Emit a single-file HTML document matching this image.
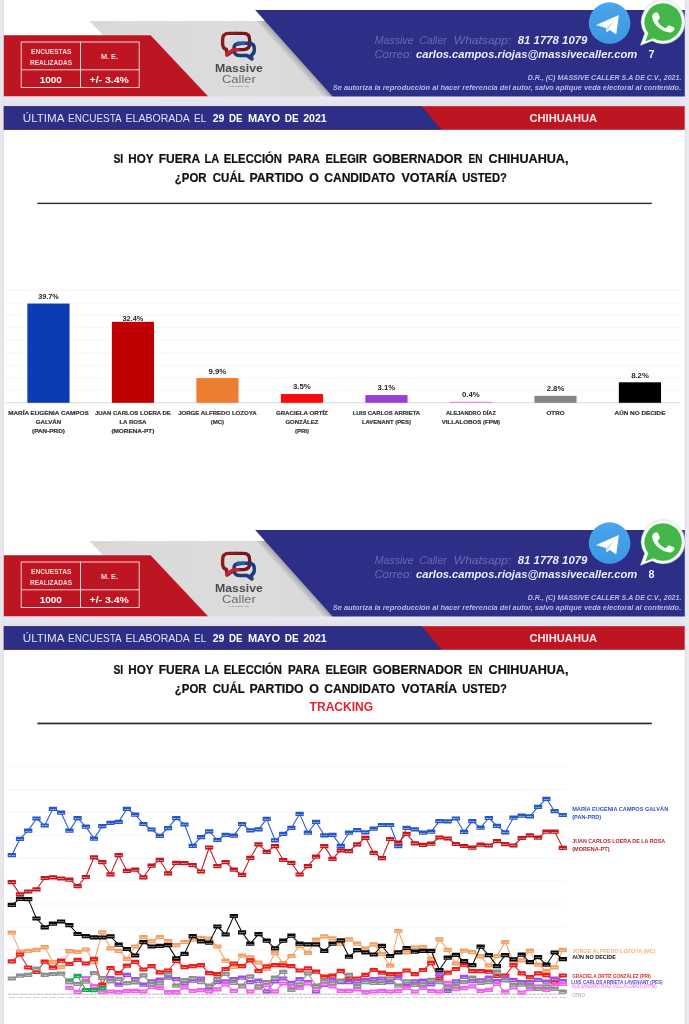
<!DOCTYPE html>
<html lang="es"><head><meta charset="utf-8"><title>Massive Caller - Chihuahua</title>
<style>html,body{margin:0;padding:0;background:#fff}body{width:689px;height:1024px;overflow:hidden}svg{display:block;filter:blur(0.45px)}</style>
</head><body>
<svg width="689" height="1024" viewBox="0 0 689 1024" font-family='"Liberation Sans", sans-serif'>
<defs>
<linearGradient id="gGrey" x1="0" y1="0" x2="1" y2="0"><stop offset="0" stop-color="#d9d9d9"/><stop offset="0.6" stop-color="#dcdcdc"/><stop offset="1" stop-color="#d9d9d9"/></linearGradient>
<linearGradient id="gShadow" gradientUnits="userSpaceOnUse" x1="293.4" y1="65.8" x2="299.9" y2="60"><stop offset="0" stop-color="#b4b4ba" stop-opacity="0"/><stop offset="1" stop-color="#8f8f9c" stop-opacity="0.8"/></linearGradient>
<linearGradient id="gStrip" x1="0" y1="0" x2="0" y2="1"><stop offset="0" stop-color="#e9e9f4"/><stop offset="1" stop-color="#e0e3e8"/></linearGradient>
<linearGradient id="gTg" x1="0" y1="0" x2="0" y2="1"><stop offset="0" stop-color="#48a6ec"/><stop offset="1" stop-color="#3c97e2"/></linearGradient>
</defs>
<rect width="689" height="1024" fill="#ffffff"/>
<rect x="0" y="0" width="3.9" height="1024" fill="#e8e7ed"/>
<rect x="3.0" y="0" width="0.9" height="1024" fill="#dfdee6"/>
<rect x="684.9" y="0" width="4.1" height="1024" fill="#e9e8ef"/>
<rect x="684.7" y="0" width="0.9" height="1024" fill="#e0dfe8"/>
<g transform="translate(0,0)">
<rect x="3.8" y="96" width="680.9" height="10.5" fill="url(#gStrip)"/>
<polygon points="89.6,20.9 275,20.9 345,96.5 160,96.5" fill="url(#gGrey)"/>
<polygon points="256.5,20.9 265.5,20.9 332.5,96.5 323.5,96.5" fill="url(#gShadow)"/>
<polygon points="3.8,35.3 150.6,35.3 208,96.3 3.8,96.3" fill="#be1522"/>
<polygon points="255.2,10 684.8,10 684.8,96.6 332.5,96.6" fill="#2d2e85"/>
<g fill="none" stroke="#fbe9ea" stroke-width="0.9"><rect x="21.2" y="42" width="118" height="45.5"/><line x1="80.5" y1="42" x2="80.5" y2="87.5"/><line x1="21.2" y1="69.8" x2="139.2" y2="69.8"/></g>
<text x="51.2" y="54.4" font-size="6.6" fill="#f6d9dc" font-weight="bold" text-anchor="middle" textLength="40.4" lengthAdjust="spacingAndGlyphs">ENCUESTAS</text>
<text x="51.0" y="64.5" font-size="6.6" fill="#f6d9dc" font-weight="bold" text-anchor="middle" textLength="42.0" lengthAdjust="spacingAndGlyphs">REALIZADAS</text>
<text x="109.5" y="59.3" font-size="6.8" fill="#f6d9dc" font-weight="bold" text-anchor="middle" textLength="17.1" lengthAdjust="spacingAndGlyphs">M. E.</text>
<text x="50.8" y="83.3" font-size="9.8" fill="#ffffff" font-weight="bold" text-anchor="middle" textLength="22.1" lengthAdjust="spacingAndGlyphs">1000</text>
<text x="109.2" y="83.3" font-size="9.8" fill="#ffffff" font-weight="bold" text-anchor="middle" textLength="39.2" lengthAdjust="spacingAndGlyphs">+/- 3.4%</text>
<g fill="none" stroke-width="3.4" stroke-linejoin="round" stroke-linecap="round"><path d="M235.5,33.4 H243.5 Q249.6,33.4 249.6,39.5 V43.5 Q249.6,49.6 243.5,49.6 H236" stroke="#7a1418"/><path d="M237,49.6 H235 L227,55 L226.5,49.5 Q222.6,48.5 222.6,43.5 V39.5 Q222.6,33.4 228.7,33.4 H236" stroke="#8c1a1d"/><path d="M238,44 Q234,44 234,48 V50 Q234,55.5 239.5,55.5 H247 L252,59 L251.2,55 Q254.3,54 254.3,50 V48.5 Q254.3,43.3 249,43.3 H238" stroke="#1d3a7a"/><path d="M226.8,54.2 L233,49.8 H238" stroke="#cf1f2b"/><path d="M238,44 Q241,43.3 244,43.3" stroke="#2458a6"/></g>
<text x="238.9" y="72.3" font-size="11" fill="#4b4b4d" font-weight="bold" text-anchor="middle" textLength="48.0" lengthAdjust="spacingAndGlyphs">Massive</text>
<text x="238.9" y="82.7" font-size="11.6" fill="#6d6d70" text-anchor="middle" textLength="34.0" lengthAdjust="spacingAndGlyphs">Caller</text>
<text x="239.0" y="86.6" font-size="2.4" fill="#777" text-anchor="middle" textLength="20.0" lengthAdjust="spacingAndGlyphs">THE LINES ARE</text>
<text y="43.8" font-size="10.4" fill="#8c8ed0" font-weight="normal" font-style="italic" opacity="0.62"><tspan x="374.8" textLength="38.7" lengthAdjust="spacingAndGlyphs">Massive</tspan> <tspan x="419.6" textLength="27.0" lengthAdjust="spacingAndGlyphs">Caller</tspan> <tspan x="453.8" textLength="57.5" lengthAdjust="spacingAndGlyphs">Whatsapp:</tspan></text>
<text x="517.8" y="44.0" font-size="10.9" fill="#ededfb" font-weight="bold" font-style="italic" textLength="69.6" lengthAdjust="spacingAndGlyphs">81 1778 1079</text>
<text x="374.4" y="58.4" font-size="10.4" fill="#8c8ed0" font-style="italic" textLength="38.0" lengthAdjust="spacingAndGlyphs" opacity="0.62">Correo:</text>
<text x="416.0" y="58.4" font-size="10.9" fill="#ededfb" font-weight="bold" font-style="italic" textLength="221.3" lengthAdjust="spacingAndGlyphs">carlos.campos.riojas@massivecaller.com</text>
<text x="648.4" y="58.0" font-size="11.3" fill="#ededfb" font-weight="bold" textLength="6.0" lengthAdjust="spacingAndGlyphs">7</text>
<text x="681.4" y="79.5" font-size="7.2" fill="#b9baea" font-weight="bold" text-anchor="end" font-style="italic" textLength="153.7" lengthAdjust="spacingAndGlyphs">D.R., (C) MASSIVE CALLER S.A DE C.V., 2021.</text>
<text x="681.2" y="90.1" font-size="7.2" fill="#b9baea" font-weight="bold" text-anchor="end" font-style="italic" textLength="348.4" lengthAdjust="spacingAndGlyphs">Se autoriza la reproducción al hacer referencia del autor, salvo aplique veda electoral al contenido.</text>
<circle cx="609.6" cy="23.1" r="20.8" fill="url(#gTg)"/><path d="M596.1,24.9 L618.9,15.1 L616.2,34.4 L609.8,30.0 L606.6,32.6 L606.0,28.0 L602.8,26.9 Z" fill="#fff"/><path d="M606.0,28.0 L614.2,20.4 L606.6,32.6 Z" fill="#cfe2f4"/>
<path d="M663,-0.9 a22.6,22.6 0 1 1 -11.2,42.2 L639.6,45.9 L644.2,33.6 A22.6,22.6 0 0 1 663,-0.9 Z" fill="#d9d6dc" opacity="0.55" transform="translate(0,0)"/><path d="M663,0.2 a21.7,21.7 0 1 1 -10.6,40.6 L640.6,45.2 L644.9,33.6 A21.7,21.7 0 0 1 663,0.2 Z" fill="#f2fff2"/><path d="M663,3.2 a18.8,18.8 0 1 1 -9.6,35 L645.3,41.4 L648.3,33.2 A18.8,18.8 0 0 1 663,3.2 Z" fill="#44b549"/><path d="M655.3,12.4 c-1.5,0.3 -3.2,2 -3.1,4.3 c0.3,4.6 3.4,8.6 7.2,11.6 c3.6,2.8 7.6,4.4 10.9,4.1 c2.1,-0.2 3.8,-1.7 4.1,-3.3 c0.2,-1 -0.2,-1.5 -0.9,-1.9 l-3.6,-1.8 c-0.8,-0.4 -1.5,-0.3 -2,0.4 l-1.3,1.7 c-0.5,0.6 -1.1,0.7 -1.8,0.4 c-2.9,-1.3 -5.2,-3.4 -6.7,-6.2 c-0.3,-0.6 -0.2,-1.2 0.3,-1.7 l1.1,-1.3 c0.5,-0.6 0.5,-1.2 0.2,-1.9 l-1.6,-3.6 c-0.5,-1 -1.300,-1.1 -2.800,-0.800 Z" fill="#f2fff2"/>
<rect x="3.8" y="106.2" width="680.9" height="23.6" fill="#be1522"/>
<polygon points="3.8,106.2 421.8,106.2 441.6,129.8 3.8,129.8" fill="#2d2e85"/>
<text y="122.1" font-size="11.6" fill="#dfe0f6" font-weight="normal" ><tspan x="22.8" textLength="41.0" lengthAdjust="spacingAndGlyphs">ÚLTIMA</tspan> <tspan x="68.1" textLength="53.1" lengthAdjust="spacingAndGlyphs">ENCUESTA</tspan> <tspan x="125.6" textLength="63.7" lengthAdjust="spacingAndGlyphs">ELABORADA</tspan> <tspan x="194.0" textLength="12.2" lengthAdjust="spacingAndGlyphs">EL</tspan></text>
<text y="122.1" font-size="11.6" fill="#ffffff" font-weight="bold" ><tspan x="212.7" textLength="11.6" lengthAdjust="spacingAndGlyphs">29</tspan> <tspan x="229.1" textLength="13.5" lengthAdjust="spacingAndGlyphs">DE</tspan> <tspan x="247.9" textLength="32.2" lengthAdjust="spacingAndGlyphs">MAYO</tspan> <tspan x="284.8" textLength="13.9" lengthAdjust="spacingAndGlyphs">DE</tspan> <tspan x="303.2" textLength="23.4" lengthAdjust="spacingAndGlyphs">2021</tspan></text>
<text x="563.3" y="121.9" font-size="11.4" fill="#fdeaea" font-weight="bold" text-anchor="middle" textLength="67.6" lengthAdjust="spacingAndGlyphs">CHIHUAHUA</text>
</g>

<text y="163.4" font-size="12.2" fill="#111" font-weight="bold" stroke="#111" stroke-width="0.22"><tspan x="113.4" textLength="9.8" lengthAdjust="spacingAndGlyphs">SI</tspan> <tspan x="128.3" textLength="25.0" lengthAdjust="spacingAndGlyphs">HOY</tspan> <tspan x="158.8" textLength="40.8" lengthAdjust="spacingAndGlyphs">FUERA</tspan> <tspan x="204.5" textLength="14.3" lengthAdjust="spacingAndGlyphs">LA</tspan> <tspan x="223.7" textLength="58.3" lengthAdjust="spacingAndGlyphs">ELECCIÓN</tspan> <tspan x="288.1" textLength="31.4" lengthAdjust="spacingAndGlyphs">PARA</tspan> <tspan x="325.6" textLength="41.4" lengthAdjust="spacingAndGlyphs">ELEGIR</tspan> <tspan x="372.8" textLength="89.6" lengthAdjust="spacingAndGlyphs">GOBERNADOR</tspan> <tspan x="468.5" textLength="14.0" lengthAdjust="spacingAndGlyphs">EN</tspan> <tspan x="488.6" textLength="79.9" lengthAdjust="spacingAndGlyphs">CHIHUAHUA,</tspan></text>
<text y="181.9" font-size="12.2" fill="#111" font-weight="bold" stroke="#111" stroke-width="0.22"><tspan x="174.8" textLength="31.7" lengthAdjust="spacingAndGlyphs">¿POR</tspan> <tspan x="212.8" textLength="31.7" lengthAdjust="spacingAndGlyphs">CUÁL</tspan> <tspan x="249.5" textLength="54.1" lengthAdjust="spacingAndGlyphs">PARTIDO</tspan> <tspan x="309.2" textLength="9.7" lengthAdjust="spacingAndGlyphs">O</tspan> <tspan x="324.3" textLength="70.9" lengthAdjust="spacingAndGlyphs">CANDIDATO</tspan> <tspan x="401.4" textLength="55.2" lengthAdjust="spacingAndGlyphs">VOTARÍA</tspan> <tspan x="462.3" textLength="44.6" lengthAdjust="spacingAndGlyphs">USTED?</tspan></text>

<rect x="37.3" y="202.7" width="614.5" height="1.4" fill="#2a2a2a"/>
<line x1="5.7" y1="390.3" x2="680" y2="390.3" stroke="#f4f4f4" stroke-width="0.8"/>
<line x1="5.7" y1="377.8" x2="680" y2="377.8" stroke="#f4f4f4" stroke-width="0.8"/>
<line x1="5.7" y1="365.3" x2="680" y2="365.3" stroke="#f4f4f4" stroke-width="0.8"/>
<line x1="5.7" y1="352.8" x2="680" y2="352.8" stroke="#f4f4f4" stroke-width="0.8"/>
<line x1="5.7" y1="340.3" x2="680" y2="340.3" stroke="#f4f4f4" stroke-width="0.8"/>
<line x1="5.7" y1="327.8" x2="680" y2="327.8" stroke="#f4f4f4" stroke-width="0.8"/>
<line x1="5.7" y1="315.3" x2="680" y2="315.3" stroke="#f4f4f4" stroke-width="0.8"/>
<line x1="5.7" y1="302.8" x2="680" y2="302.8" stroke="#f4f4f4" stroke-width="0.8"/>
<line x1="5.7" y1="290.3" x2="680" y2="290.3" stroke="#f4f4f4" stroke-width="0.8"/>
<line x1="5.7" y1="402.8" x2="680" y2="402.8" stroke="#d6d6d6" stroke-width="0.9"/>
<rect x="27.35" y="303.55" width="42.2" height="99.25" fill="#0c3bb4"/>
<text x="48.5" y="299.4" font-size="8" fill="#262626" font-weight="bold" text-anchor="middle" textLength="20.7" lengthAdjust="spacingAndGlyphs">39.7%</text>
<text x="48.5" y="414.9" font-size="6.2" fill="#383838" font-weight="bold" text-anchor="middle" textLength="80.5" lengthAdjust="spacingAndGlyphs" stroke="#383838" stroke-width="0.22">MARÍA EUGENIA CAMPOS</text>
<text x="48.5" y="424.4" font-size="6.2" fill="#383838" font-weight="bold" text-anchor="middle" textLength="25.5" lengthAdjust="spacingAndGlyphs" stroke="#383838" stroke-width="0.22">GALVÁN</text>
<text x="48.5" y="433.3" font-size="6.2" fill="#383838" font-weight="bold" text-anchor="middle" textLength="33.0" lengthAdjust="spacingAndGlyphs" stroke="#383838" stroke-width="0.22">(PAN-PRD)</text>
<rect x="111.85" y="321.80" width="42.2" height="81.00" fill="#c00000"/>
<text x="132.9" y="320.8" font-size="8" fill="#262626" font-weight="bold" text-anchor="middle" textLength="20.7" lengthAdjust="spacingAndGlyphs">32.4%</text>
<text x="132.9" y="414.9" font-size="6.2" fill="#383838" font-weight="bold" text-anchor="middle" textLength="76.0" lengthAdjust="spacingAndGlyphs" stroke="#383838" stroke-width="0.22">JUAN CARLOS LOERA DE</text>
<text x="132.9" y="424.4" font-size="6.2" fill="#383838" font-weight="bold" text-anchor="middle" textLength="27.0" lengthAdjust="spacingAndGlyphs" stroke="#383838" stroke-width="0.22">LA ROSA</text>
<text x="132.9" y="433.3" font-size="6.2" fill="#383838" font-weight="bold" text-anchor="middle" textLength="43.0" lengthAdjust="spacingAndGlyphs" stroke="#383838" stroke-width="0.22">(MORENA-PT)</text>
<rect x="196.35" y="378.05" width="42.2" height="24.75" fill="#ed7d31"/>
<text x="217.4" y="373.6" font-size="8" fill="#262626" font-weight="bold" text-anchor="middle" textLength="17.7" lengthAdjust="spacingAndGlyphs">9.9%</text>
<text x="217.4" y="414.9" font-size="6.2" fill="#383838" font-weight="bold" text-anchor="middle" textLength="78.5" lengthAdjust="spacingAndGlyphs" stroke="#383838" stroke-width="0.22">JORGE ALFREDO LOZOYA</text>
<text x="217.4" y="424.4" font-size="6.2" fill="#383838" font-weight="bold" text-anchor="middle" textLength="13.5" lengthAdjust="spacingAndGlyphs" stroke="#383838" stroke-width="0.22">(MC)</text>
<rect x="280.85" y="394.05" width="42.2" height="8.75" fill="#fa0a0a"/>
<text x="301.9" y="388.9" font-size="8" fill="#262626" font-weight="bold" text-anchor="middle" textLength="17.7" lengthAdjust="spacingAndGlyphs">3.5%</text>
<text x="301.9" y="414.9" font-size="6.2" fill="#383838" font-weight="bold" text-anchor="middle" textLength="52.0" lengthAdjust="spacingAndGlyphs" stroke="#383838" stroke-width="0.22">GRACIELA ORTÍZ</text>
<text x="301.9" y="424.4" font-size="6.2" fill="#383838" font-weight="bold" text-anchor="middle" textLength="33.0" lengthAdjust="spacingAndGlyphs" stroke="#383838" stroke-width="0.22">GONZÁLEZ</text>
<text x="301.9" y="433.3" font-size="6.2" fill="#383838" font-weight="bold" text-anchor="middle" textLength="14.0" lengthAdjust="spacingAndGlyphs" stroke="#383838" stroke-width="0.22">(PRI)</text>
<rect x="365.35" y="395.05" width="42.2" height="7.75" fill="#9a3fd5"/>
<text x="386.4" y="389.9" font-size="8" fill="#262626" font-weight="bold" text-anchor="middle" textLength="17.7" lengthAdjust="spacingAndGlyphs">3.1%</text>
<text x="386.4" y="414.9" font-size="6.2" fill="#383838" font-weight="bold" text-anchor="middle" textLength="67.5" lengthAdjust="spacingAndGlyphs" stroke="#383838" stroke-width="0.22">LUIS CARLOS ARRIETA</text>
<text x="386.4" y="424.4" font-size="6.2" fill="#383838" font-weight="bold" text-anchor="middle" textLength="49.0" lengthAdjust="spacingAndGlyphs" stroke="#383838" stroke-width="0.22">LAVENANT (PES)</text>
<rect x="449.85" y="401.80" width="42.2" height="1.00" fill="#ee72e6"/>
<text x="470.9" y="397.2" font-size="8" fill="#262626" font-weight="bold" text-anchor="middle" textLength="17.7" lengthAdjust="spacingAndGlyphs">0.4%</text>
<text x="470.9" y="414.9" font-size="6.2" fill="#383838" font-weight="bold" text-anchor="middle" textLength="50.0" lengthAdjust="spacingAndGlyphs" stroke="#383838" stroke-width="0.22">ALEJANDRO DÍAZ</text>
<text x="470.9" y="424.4" font-size="6.2" fill="#383838" font-weight="bold" text-anchor="middle" textLength="58.5" lengthAdjust="spacingAndGlyphs" stroke="#383838" stroke-width="0.22">VILLALOBOS (FPM)</text>
<rect x="534.35" y="395.80" width="42.2" height="7.00" fill="#878787"/>
<text x="555.5" y="390.7" font-size="8" fill="#262626" font-weight="bold" text-anchor="middle" textLength="17.7" lengthAdjust="spacingAndGlyphs">2.8%</text>
<text x="555.5" y="414.9" font-size="6.2" fill="#383838" font-weight="bold" text-anchor="middle" textLength="18.0" lengthAdjust="spacingAndGlyphs" stroke="#383838" stroke-width="0.22">OTRO</text>
<rect x="618.85" y="382.30" width="42.2" height="20.50" fill="#000000"/>
<text x="640.0" y="378.1" font-size="8" fill="#262626" font-weight="bold" text-anchor="middle" textLength="17.7" lengthAdjust="spacingAndGlyphs">8.2%</text>
<text x="640.0" y="414.9" font-size="6.2" fill="#383838" font-weight="bold" text-anchor="middle" textLength="50.8" lengthAdjust="spacingAndGlyphs" stroke="#383838" stroke-width="0.22">AÚN NO DECIDE</text>

<g transform="translate(0,520)">
<rect x="3.8" y="96" width="680.9" height="10.5" fill="url(#gStrip)"/>
<polygon points="89.6,20.9 275,20.9 345,96.5 160,96.5" fill="url(#gGrey)"/>
<polygon points="256.5,20.9 265.5,20.9 332.5,96.5 323.5,96.5" fill="url(#gShadow)"/>
<polygon points="3.8,35.3 150.6,35.3 208,96.3 3.8,96.3" fill="#be1522"/>
<polygon points="255.2,10 684.8,10 684.8,96.6 332.5,96.6" fill="#2d2e85"/>
<g fill="none" stroke="#fbe9ea" stroke-width="0.9"><rect x="21.2" y="42" width="118" height="45.5"/><line x1="80.5" y1="42" x2="80.5" y2="87.5"/><line x1="21.2" y1="69.8" x2="139.2" y2="69.8"/></g>
<text x="51.2" y="54.4" font-size="6.6" fill="#f6d9dc" font-weight="bold" text-anchor="middle" textLength="40.4" lengthAdjust="spacingAndGlyphs">ENCUESTAS</text>
<text x="51.0" y="64.5" font-size="6.6" fill="#f6d9dc" font-weight="bold" text-anchor="middle" textLength="42.0" lengthAdjust="spacingAndGlyphs">REALIZADAS</text>
<text x="109.5" y="59.3" font-size="6.8" fill="#f6d9dc" font-weight="bold" text-anchor="middle" textLength="17.1" lengthAdjust="spacingAndGlyphs">M. E.</text>
<text x="50.8" y="83.3" font-size="9.8" fill="#ffffff" font-weight="bold" text-anchor="middle" textLength="22.1" lengthAdjust="spacingAndGlyphs">1000</text>
<text x="109.2" y="83.3" font-size="9.8" fill="#ffffff" font-weight="bold" text-anchor="middle" textLength="39.2" lengthAdjust="spacingAndGlyphs">+/- 3.4%</text>
<g fill="none" stroke-width="3.4" stroke-linejoin="round" stroke-linecap="round"><path d="M235.5,33.4 H243.5 Q249.6,33.4 249.6,39.5 V43.5 Q249.6,49.6 243.5,49.6 H236" stroke="#7a1418"/><path d="M237,49.6 H235 L227,55 L226.5,49.5 Q222.6,48.5 222.6,43.5 V39.5 Q222.6,33.4 228.7,33.4 H236" stroke="#8c1a1d"/><path d="M238,44 Q234,44 234,48 V50 Q234,55.5 239.5,55.5 H247 L252,59 L251.2,55 Q254.3,54 254.3,50 V48.5 Q254.3,43.3 249,43.3 H238" stroke="#1d3a7a"/><path d="M226.8,54.2 L233,49.8 H238" stroke="#cf1f2b"/><path d="M238,44 Q241,43.3 244,43.3" stroke="#2458a6"/></g>
<text x="238.9" y="72.3" font-size="11" fill="#4b4b4d" font-weight="bold" text-anchor="middle" textLength="48.0" lengthAdjust="spacingAndGlyphs">Massive</text>
<text x="238.9" y="82.7" font-size="11.6" fill="#6d6d70" text-anchor="middle" textLength="34.0" lengthAdjust="spacingAndGlyphs">Caller</text>
<text x="239.0" y="86.6" font-size="2.4" fill="#777" text-anchor="middle" textLength="20.0" lengthAdjust="spacingAndGlyphs">THE LINES ARE</text>
<text y="43.8" font-size="10.4" fill="#8c8ed0" font-weight="normal" font-style="italic" opacity="0.62"><tspan x="374.8" textLength="38.7" lengthAdjust="spacingAndGlyphs">Massive</tspan> <tspan x="419.6" textLength="27.0" lengthAdjust="spacingAndGlyphs">Caller</tspan> <tspan x="453.8" textLength="57.5" lengthAdjust="spacingAndGlyphs">Whatsapp:</tspan></text>
<text x="517.8" y="44.0" font-size="10.9" fill="#ededfb" font-weight="bold" font-style="italic" textLength="69.6" lengthAdjust="spacingAndGlyphs">81 1778 1079</text>
<text x="374.4" y="58.4" font-size="10.4" fill="#8c8ed0" font-style="italic" textLength="38.0" lengthAdjust="spacingAndGlyphs" opacity="0.62">Correo:</text>
<text x="416.0" y="58.4" font-size="10.9" fill="#ededfb" font-weight="bold" font-style="italic" textLength="221.3" lengthAdjust="spacingAndGlyphs">carlos.campos.riojas@massivecaller.com</text>
<text x="648.4" y="58.0" font-size="11.3" fill="#ededfb" font-weight="bold" textLength="6.0" lengthAdjust="spacingAndGlyphs">8</text>
<text x="681.4" y="79.5" font-size="7.2" fill="#b9baea" font-weight="bold" text-anchor="end" font-style="italic" textLength="153.7" lengthAdjust="spacingAndGlyphs">D.R., (C) MASSIVE CALLER S.A DE C.V., 2021.</text>
<text x="681.2" y="90.1" font-size="7.2" fill="#b9baea" font-weight="bold" text-anchor="end" font-style="italic" textLength="348.4" lengthAdjust="spacingAndGlyphs">Se autoriza la reproducción al hacer referencia del autor, salvo aplique veda electoral al contenido.</text>
<circle cx="609.6" cy="23.1" r="20.8" fill="url(#gTg)"/><path d="M596.1,24.9 L618.9,15.1 L616.2,34.4 L609.8,30.0 L606.6,32.6 L606.0,28.0 L602.8,26.9 Z" fill="#fff"/><path d="M606.0,28.0 L614.2,20.4 L606.6,32.6 Z" fill="#cfe2f4"/>
<path d="M663,-0.9 a22.6,22.6 0 1 1 -11.2,42.2 L639.6,45.9 L644.2,33.6 A22.6,22.6 0 0 1 663,-0.9 Z" fill="#d9d6dc" opacity="0.55" transform="translate(0,0)"/><path d="M663,0.2 a21.7,21.7 0 1 1 -10.6,40.6 L640.6,45.2 L644.9,33.6 A21.7,21.7 0 0 1 663,0.2 Z" fill="#f2fff2"/><path d="M663,3.2 a18.8,18.8 0 1 1 -9.6,35 L645.3,41.4 L648.3,33.2 A18.8,18.8 0 0 1 663,3.2 Z" fill="#44b549"/><path d="M655.3,12.4 c-1.5,0.3 -3.2,2 -3.1,4.3 c0.3,4.6 3.4,8.6 7.2,11.6 c3.6,2.8 7.6,4.4 10.9,4.1 c2.1,-0.2 3.8,-1.7 4.1,-3.3 c0.2,-1 -0.2,-1.5 -0.9,-1.9 l-3.6,-1.8 c-0.8,-0.4 -1.5,-0.3 -2,0.4 l-1.3,1.7 c-0.5,0.6 -1.1,0.7 -1.8,0.4 c-2.9,-1.3 -5.2,-3.4 -6.7,-6.2 c-0.3,-0.6 -0.2,-1.2 0.3,-1.7 l1.1,-1.3 c0.5,-0.6 0.5,-1.2 0.2,-1.9 l-1.6,-3.6 c-0.5,-1 -1.300,-1.1 -2.800,-0.800 Z" fill="#f2fff2"/>
<rect x="3.8" y="106.2" width="680.9" height="23.6" fill="#be1522"/>
<polygon points="3.8,106.2 421.8,106.2 441.6,129.8 3.8,129.8" fill="#2d2e85"/>
<text y="122.1" font-size="11.6" fill="#dfe0f6" font-weight="normal" ><tspan x="22.8" textLength="41.0" lengthAdjust="spacingAndGlyphs">ÚLTIMA</tspan> <tspan x="68.1" textLength="53.1" lengthAdjust="spacingAndGlyphs">ENCUESTA</tspan> <tspan x="125.6" textLength="63.7" lengthAdjust="spacingAndGlyphs">ELABORADA</tspan> <tspan x="194.0" textLength="12.2" lengthAdjust="spacingAndGlyphs">EL</tspan></text>
<text y="122.1" font-size="11.6" fill="#ffffff" font-weight="bold" ><tspan x="212.7" textLength="11.6" lengthAdjust="spacingAndGlyphs">29</tspan> <tspan x="229.1" textLength="13.5" lengthAdjust="spacingAndGlyphs">DE</tspan> <tspan x="247.9" textLength="32.2" lengthAdjust="spacingAndGlyphs">MAYO</tspan> <tspan x="284.8" textLength="13.9" lengthAdjust="spacingAndGlyphs">DE</tspan> <tspan x="303.2" textLength="23.4" lengthAdjust="spacingAndGlyphs">2021</tspan></text>
<text x="563.3" y="121.9" font-size="11.4" fill="#fdeaea" font-weight="bold" text-anchor="middle" textLength="67.6" lengthAdjust="spacingAndGlyphs">CHIHUAHUA</text>
</g>

<text y="674.4" font-size="12.2" fill="#111" font-weight="bold" stroke="#111" stroke-width="0.22"><tspan x="113.4" textLength="9.8" lengthAdjust="spacingAndGlyphs">SI</tspan> <tspan x="128.3" textLength="25.0" lengthAdjust="spacingAndGlyphs">HOY</tspan> <tspan x="158.8" textLength="40.8" lengthAdjust="spacingAndGlyphs">FUERA</tspan> <tspan x="204.5" textLength="14.3" lengthAdjust="spacingAndGlyphs">LA</tspan> <tspan x="223.7" textLength="58.3" lengthAdjust="spacingAndGlyphs">ELECCIÓN</tspan> <tspan x="288.1" textLength="31.4" lengthAdjust="spacingAndGlyphs">PARA</tspan> <tspan x="325.6" textLength="41.4" lengthAdjust="spacingAndGlyphs">ELEGIR</tspan> <tspan x="372.8" textLength="89.6" lengthAdjust="spacingAndGlyphs">GOBERNADOR</tspan> <tspan x="468.5" textLength="14.0" lengthAdjust="spacingAndGlyphs">EN</tspan> <tspan x="488.6" textLength="79.9" lengthAdjust="spacingAndGlyphs">CHIHUAHUA,</tspan></text>
<text y="693.2" font-size="12.2" fill="#111" font-weight="bold" stroke="#111" stroke-width="0.22"><tspan x="174.8" textLength="31.7" lengthAdjust="spacingAndGlyphs">¿POR</tspan> <tspan x="212.8" textLength="31.7" lengthAdjust="spacingAndGlyphs">CUÁL</tspan> <tspan x="249.5" textLength="54.1" lengthAdjust="spacingAndGlyphs">PARTIDO</tspan> <tspan x="309.2" textLength="9.7" lengthAdjust="spacingAndGlyphs">O</tspan> <tspan x="324.3" textLength="70.9" lengthAdjust="spacingAndGlyphs">CANDIDATO</tspan> <tspan x="401.4" textLength="55.2" lengthAdjust="spacingAndGlyphs">VOTARÍA</tspan> <tspan x="462.3" textLength="44.6" lengthAdjust="spacingAndGlyphs">USTED?</tspan></text>

<text x="341.4" y="711.2" font-size="12.2" fill="#e3242b" font-weight="bold" text-anchor="middle" textLength="63.6" lengthAdjust="spacingAndGlyphs">TRACKING</text>

<rect x="37.3" y="722.6" width="614.5" height="1.7" fill="#2a2a2a"/>
<line x1="7.5" y1="972.7" x2="565.6" y2="972.7" stroke="#f3f3f3" stroke-width="0.8"/>
<line x1="7.5" y1="949.8" x2="565.6" y2="949.8" stroke="#f3f3f3" stroke-width="0.8"/>
<line x1="7.5" y1="926.9" x2="565.6" y2="926.9" stroke="#f3f3f3" stroke-width="0.8"/>
<line x1="7.5" y1="904.0" x2="565.6" y2="904.0" stroke="#f3f3f3" stroke-width="0.8"/>
<line x1="7.5" y1="881.1" x2="565.6" y2="881.1" stroke="#f3f3f3" stroke-width="0.8"/>
<line x1="7.5" y1="858.2" x2="565.6" y2="858.2" stroke="#f3f3f3" stroke-width="0.8"/>
<line x1="7.5" y1="835.3" x2="565.6" y2="835.3" stroke="#f3f3f3" stroke-width="0.8"/>
<line x1="7.5" y1="812.4" x2="565.6" y2="812.4" stroke="#f3f3f3" stroke-width="0.8"/>
<line x1="7.5" y1="789.5" x2="565.6" y2="789.5" stroke="#f3f3f3" stroke-width="0.8"/>
<line x1="7.5" y1="766.6" x2="565.6" y2="766.6" stroke="#f3f3f3" stroke-width="0.8"/>
<line x1="7.9" y1="994.2" x2="565.6" y2="994.2" stroke="#9a9a9a" stroke-width="0.7" stroke-dasharray="3.4 0.7"/>
<polyline points="11.8,855.2 20.0,838.8 28.2,830.6 36.5,818.5 44.7,825.5 52.9,808.8 61.1,812.7 69.4,830.6 77.6,818.2 85.8,826.6 94.0,838.6 102.3,826.2 110.5,822.9 118.7,821.9 126.9,808.8 135.2,814.6 143.4,824.0 151.6,829.5 159.8,835.9 168.1,828.1 176.3,818.2 184.5,824.5 192.7,845.8 201.0,837.1 209.2,831.3 217.4,840.0 225.6,834.9 233.8,835.6 242.1,824.0 250.3,830.3 258.5,829.4 266.7,818.9 275.0,840.3 283.2,833.8 291.4,827.9 299.6,813.9 307.9,832.7 316.1,821.9 324.3,835.3 332.5,834.9 340.8,845.8 349.0,832.7 357.2,830.1 365.4,832.4 373.7,828.7 381.9,825.0 390.1,825.0 398.3,846.1 406.6,827.9 414.8,829.4 423.0,832.7 431.2,831.6 439.4,821.1 447.7,821.4 455.9,818.5 464.1,831.9 472.3,821.1 480.6,827.7 488.8,818.0 497.0,825.8 505.2,832.4 513.5,817.6 521.7,815.6 529.9,816.4 538.1,806.8 546.4,798.8 554.6,811.2 562.8,815.0" fill="none" stroke="#2656c8" stroke-width="1.05" stroke-linejoin="round"/>
<path d="M7.7,853.1h8.2v4.2h-8.2zM15.9,836.7h8.2v4.2h-8.2zM24.1,828.5h8.2v4.2h-8.2zM32.4,816.4h8.2v4.2h-8.2zM40.6,823.4h8.2v4.2h-8.2zM48.8,806.7h8.2v4.2h-8.2zM57.0,810.6h8.2v4.2h-8.2zM65.3,828.5h8.2v4.2h-8.2zM73.5,816.1h8.2v4.2h-8.2zM81.7,824.5h8.2v4.2h-8.2zM89.9,836.5h8.2v4.2h-8.2zM98.2,824.1h8.2v4.2h-8.2zM106.4,820.8h8.2v4.2h-8.2zM114.6,819.8h8.2v4.2h-8.2zM122.8,806.7h8.2v4.2h-8.2zM131.1,812.5h8.2v4.2h-8.2zM139.3,821.9h8.2v4.2h-8.2zM147.5,827.4h8.2v4.2h-8.2zM155.7,833.8h8.2v4.2h-8.2zM164.0,826.0h8.2v4.2h-8.2zM172.2,816.1h8.2v4.2h-8.2zM180.4,822.4h8.2v4.2h-8.2zM188.6,843.7h8.2v4.2h-8.2zM196.9,835.0h8.2v4.2h-8.2zM205.1,829.2h8.2v4.2h-8.2zM213.3,837.9h8.2v4.2h-8.2zM221.5,832.8h8.2v4.2h-8.2zM229.7,833.5h8.2v4.2h-8.2zM238.0,821.9h8.2v4.2h-8.2zM246.2,828.2h8.2v4.2h-8.2zM254.4,827.3h8.2v4.2h-8.2zM262.6,816.8h8.2v4.2h-8.2zM270.9,838.2h8.2v4.2h-8.2zM279.1,831.7h8.2v4.2h-8.2zM287.3,825.8h8.2v4.2h-8.2zM295.5,811.8h8.2v4.2h-8.2zM303.8,830.6h8.2v4.2h-8.2zM312.0,819.8h8.2v4.2h-8.2zM320.2,833.2h8.2v4.2h-8.2zM328.4,832.8h8.2v4.2h-8.2zM336.7,843.7h8.2v4.2h-8.2zM344.9,830.6h8.2v4.2h-8.2zM353.1,828.0h8.2v4.2h-8.2zM361.3,830.3h8.2v4.2h-8.2zM369.6,826.6h8.2v4.2h-8.2zM377.8,822.9h8.2v4.2h-8.2zM386.0,822.9h8.2v4.2h-8.2zM394.2,844.0h8.2v4.2h-8.2zM402.5,825.8h8.2v4.2h-8.2zM410.7,827.3h8.2v4.2h-8.2zM418.9,830.6h8.2v4.2h-8.2zM427.1,829.5h8.2v4.2h-8.2zM435.3,819.0h8.2v4.2h-8.2zM443.6,819.3h8.2v4.2h-8.2zM451.8,816.4h8.2v4.2h-8.2zM460.0,829.8h8.2v4.2h-8.2zM468.2,819.0h8.2v4.2h-8.2zM476.5,825.6h8.2v4.2h-8.2zM484.7,815.9h8.2v4.2h-8.2zM492.9,823.7h8.2v4.2h-8.2zM501.1,830.3h8.2v4.2h-8.2zM509.4,815.5h8.2v4.2h-8.2zM517.6,813.5h8.2v4.2h-8.2zM525.8,814.3h8.2v4.2h-8.2zM534.0,804.7h8.2v4.2h-8.2zM542.3,796.7h8.2v4.2h-8.2zM550.5,809.1h8.2v4.2h-8.2zM558.7,812.9h8.2v4.2h-8.2z" fill="#2656c8"/>
<g font-size="2.3" fill="#ffffff" fill-opacity="0.78" text-anchor="middle" font-weight="bold"><text x="11.8" y="856.1">30.3%</text><text x="20.0" y="839.6">33.9%</text><text x="28.2" y="831.5">35.7%</text><text x="36.5" y="819.4">38.4%</text><text x="44.7" y="826.4">36.8%</text><text x="52.9" y="809.6">40.5%</text><text x="61.1" y="813.6">39.6%</text><text x="69.4" y="831.5">35.7%</text><text x="77.6" y="819.1">38.4%</text><text x="85.8" y="827.5">36.6%</text><text x="94.0" y="839.5">34.0%</text><text x="102.3" y="827.1">36.7%</text><text x="110.5" y="823.8">37.4%</text><text x="118.7" y="822.8">37.6%</text><text x="126.9" y="809.6">40.5%</text><text x="135.2" y="815.5">39.2%</text><text x="143.4" y="824.9">37.2%</text><text x="151.6" y="830.4">36.0%</text><text x="159.8" y="836.8">34.6%</text><text x="168.1" y="829.0">36.3%</text><text x="176.3" y="819.1">38.4%</text><text x="184.5" y="825.4">37.1%</text><text x="192.7" y="846.6">32.4%</text><text x="201.0" y="838.0">34.3%</text><text x="209.2" y="832.1">35.6%</text><text x="217.4" y="840.9">33.7%</text><text x="225.6" y="835.8">34.8%</text><text x="233.8" y="836.5">34.6%</text><text x="242.1" y="824.9">37.2%</text><text x="250.3" y="831.1">35.8%</text><text x="258.5" y="830.2">36.0%</text><text x="266.7" y="819.8">38.3%</text><text x="275.0" y="841.1">33.6%</text><text x="283.2" y="834.6">35.0%</text><text x="291.4" y="828.8">36.3%</text><text x="299.6" y="814.8">39.4%</text><text x="307.9" y="833.6">35.3%</text><text x="316.1" y="822.8">37.6%</text><text x="324.3" y="836.1">34.7%</text><text x="332.5" y="835.8">34.8%</text><text x="340.8" y="846.6">32.4%</text><text x="349.0" y="833.6">35.3%</text><text x="357.2" y="831.0">35.8%</text><text x="365.4" y="833.2">35.3%</text><text x="373.7" y="829.6">36.1%</text><text x="381.9" y="825.9">36.9%</text><text x="390.1" y="825.9">36.9%</text><text x="398.3" y="847.0">32.3%</text><text x="406.6" y="828.8">36.3%</text><text x="414.8" y="830.2">36.0%</text><text x="423.0" y="833.6">35.3%</text><text x="431.2" y="832.5">35.5%</text><text x="439.4" y="822.0">37.8%</text><text x="447.7" y="822.2">37.7%</text><text x="455.9" y="819.4">38.4%</text><text x="464.1" y="832.8">35.4%</text><text x="472.3" y="822.0">37.8%</text><text x="480.6" y="828.6">36.4%</text><text x="488.8" y="818.9">38.5%</text><text x="497.0" y="826.6">36.8%</text><text x="505.2" y="833.2">35.3%</text><text x="513.5" y="818.5">38.6%</text><text x="521.7" y="816.5">39.0%</text><text x="529.9" y="817.2">38.8%</text><text x="538.1" y="807.6">40.9%</text><text x="546.4" y="799.6">42.7%</text><text x="554.6" y="812.1">40.0%</text><text x="562.8" y="815.9">39.1%</text></g>
<polyline points="11.8,882.1 20.0,894.4 28.2,891.5 36.5,889.3 44.7,878.0 52.9,877.4 61.1,878.5 69.4,879.6 77.6,886.1 85.8,877.0 94.0,857.3 102.3,862.2 110.5,874.4 118.7,855.2 126.9,870.8 135.2,869.7 143.4,877.4 151.6,865.7 159.8,859.9 168.1,873.4 176.3,862.8 184.5,863.2 192.7,865.1 201.0,871.5 209.2,847.5 217.4,866.1 225.6,862.1 233.8,869.7 242.1,874.8 250.3,857.8 258.5,844.3 266.7,851.9 275.0,846.1 283.2,860.0 291.4,862.9 299.6,874.5 307.9,866.1 316.1,856.7 324.3,846.1 332.5,858.9 340.8,850.4 349.0,851.2 357.2,844.3 365.4,837.8 373.7,852.8 381.9,858.1 390.1,839.0 398.3,842.6 406.6,833.9 414.8,843.3 423.0,844.8 431.2,843.6 439.4,837.5 447.7,838.5 455.9,844.0 464.1,846.0 472.3,847.6 480.6,844.6 488.8,845.5 497.0,841.2 505.2,844.1 513.5,845.5 521.7,838.0 529.9,835.4 538.1,837.7 546.4,831.6 554.6,831.6 562.8,847.8" fill="none" stroke="#c4161c" stroke-width="1.05" stroke-linejoin="round"/>
<path d="M7.7,880.0h8.2v4.2h-8.2zM15.9,892.3h8.2v4.2h-8.2zM24.1,889.4h8.2v4.2h-8.2zM32.4,887.2h8.2v4.2h-8.2zM40.6,875.9h8.2v4.2h-8.2zM48.8,875.3h8.2v4.2h-8.2zM57.0,876.4h8.2v4.2h-8.2zM65.3,877.5h8.2v4.2h-8.2zM73.5,884.0h8.2v4.2h-8.2zM81.7,874.9h8.2v4.2h-8.2zM89.9,855.2h8.2v4.2h-8.2zM98.2,860.1h8.2v4.2h-8.2zM106.4,872.3h8.2v4.2h-8.2zM114.6,853.1h8.2v4.2h-8.2zM122.8,868.7h8.2v4.2h-8.2zM131.1,867.6h8.2v4.2h-8.2zM139.3,875.3h8.2v4.2h-8.2zM147.5,863.6h8.2v4.2h-8.2zM155.7,857.8h8.2v4.2h-8.2zM164.0,871.3h8.2v4.2h-8.2zM172.2,860.7h8.2v4.2h-8.2zM180.4,861.1h8.2v4.2h-8.2zM188.6,863.0h8.2v4.2h-8.2zM196.9,869.4h8.2v4.2h-8.2zM205.1,845.4h8.2v4.2h-8.2zM213.3,864.0h8.2v4.2h-8.2zM221.5,860.0h8.2v4.2h-8.2zM229.7,867.6h8.2v4.2h-8.2zM238.0,872.7h8.2v4.2h-8.2zM246.2,855.7h8.2v4.2h-8.2zM254.4,842.2h8.2v4.2h-8.2zM262.6,849.8h8.2v4.2h-8.2zM270.9,844.0h8.2v4.2h-8.2zM279.1,857.9h8.2v4.2h-8.2zM287.3,860.8h8.2v4.2h-8.2zM295.5,872.4h8.2v4.2h-8.2zM303.8,864.0h8.2v4.2h-8.2zM312.0,854.6h8.2v4.2h-8.2zM320.2,844.0h8.2v4.2h-8.2zM328.4,856.8h8.2v4.2h-8.2zM336.7,848.3h8.2v4.2h-8.2zM344.9,849.1h8.2v4.2h-8.2zM353.1,842.2h8.2v4.2h-8.2zM361.3,835.7h8.2v4.2h-8.2zM369.6,850.7h8.2v4.2h-8.2zM377.8,856.0h8.2v4.2h-8.2zM386.0,836.9h8.2v4.2h-8.2zM394.2,840.5h8.2v4.2h-8.2zM402.5,831.8h8.2v4.2h-8.2zM410.7,841.2h8.2v4.2h-8.2zM418.9,842.7h8.2v4.2h-8.2zM427.1,841.5h8.2v4.2h-8.2zM435.3,835.4h8.2v4.2h-8.2zM443.6,836.4h8.2v4.2h-8.2zM451.8,841.9h8.2v4.2h-8.2zM460.0,843.9h8.2v4.2h-8.2zM468.2,845.5h8.2v4.2h-8.2zM476.5,842.5h8.2v4.2h-8.2zM484.7,843.4h8.2v4.2h-8.2zM492.9,839.1h8.2v4.2h-8.2zM501.1,842.0h8.2v4.2h-8.2zM509.4,843.4h8.2v4.2h-8.2zM517.6,835.9h8.2v4.2h-8.2zM525.8,833.3h8.2v4.2h-8.2zM534.0,835.6h8.2v4.2h-8.2zM542.3,829.5h8.2v4.2h-8.2zM550.5,829.5h8.2v4.2h-8.2zM558.7,845.7h8.2v4.2h-8.2z" fill="#c4161c"/>
<g font-size="2.3" fill="#ffffff" fill-opacity="0.78" text-anchor="middle" font-weight="bold"><text x="11.8" y="883.0">24.5%</text><text x="20.0" y="895.2">21.8%</text><text x="28.2" y="892.4">22.4%</text><text x="36.5" y="890.1">22.9%</text><text x="44.7" y="878.9">25.4%</text><text x="52.9" y="878.2">25.5%</text><text x="61.1" y="879.4">25.3%</text><text x="69.4" y="880.5">25.0%</text><text x="77.6" y="887.0">23.6%</text><text x="85.8" y="877.9">25.6%</text><text x="94.0" y="858.1">29.9%</text><text x="102.3" y="863.1">28.8%</text><text x="110.5" y="875.2">26.2%</text><text x="118.7" y="856.1">30.3%</text><text x="126.9" y="871.6">26.9%</text><text x="135.2" y="870.6">27.2%</text><text x="143.4" y="878.2">25.5%</text><text x="151.6" y="866.6">28.1%</text><text x="159.8" y="860.8">29.3%</text><text x="168.1" y="874.2">26.4%</text><text x="176.3" y="863.6">28.7%</text><text x="184.5" y="864.1">28.6%</text><text x="192.7" y="866.0">28.2%</text><text x="201.0" y="872.4">26.8%</text><text x="209.2" y="848.4">32.0%</text><text x="217.4" y="867.0">28.0%</text><text x="225.6" y="863.0">28.8%</text><text x="233.8" y="870.6">27.2%</text><text x="242.1" y="875.6">26.1%</text><text x="250.3" y="858.6">29.8%</text><text x="258.5" y="845.1">32.7%</text><text x="266.7" y="852.8">31.1%</text><text x="275.0" y="847.0">32.3%</text><text x="283.2" y="860.9">29.3%</text><text x="291.4" y="863.8">28.7%</text><text x="299.6" y="875.4">26.1%</text><text x="307.9" y="867.0">28.0%</text><text x="316.1" y="857.6">30.0%</text><text x="324.3" y="847.0">32.3%</text><text x="332.5" y="859.8">29.5%</text><text x="340.8" y="851.2">31.4%</text><text x="349.0" y="852.1">31.2%</text><text x="357.2" y="845.1">32.7%</text><text x="365.4" y="838.6">34.1%</text><text x="373.7" y="853.6">30.9%</text><text x="381.9" y="859.0">29.7%</text><text x="390.1" y="839.9">33.9%</text><text x="398.3" y="843.5">33.1%</text><text x="406.6" y="834.8">35.0%</text><text x="414.8" y="844.1">32.9%</text><text x="423.0" y="845.6">32.6%</text><text x="431.2" y="844.5">32.9%</text><text x="439.4" y="838.4">34.2%</text><text x="447.7" y="839.4">34.0%</text><text x="455.9" y="844.9">32.8%</text><text x="464.1" y="846.9">32.4%</text><text x="472.3" y="848.5">32.0%</text><text x="480.6" y="845.5">32.7%</text><text x="488.8" y="846.4">32.5%</text><text x="497.0" y="842.1">33.4%</text><text x="505.2" y="845.0">32.8%</text><text x="513.5" y="846.4">32.5%</text><text x="521.7" y="838.9">34.1%</text><text x="529.9" y="836.2">34.7%</text><text x="538.1" y="838.6">34.2%</text><text x="546.4" y="832.5">35.5%</text><text x="554.6" y="832.5">35.5%</text><text x="562.8" y="848.6">32.0%</text></g>
<polyline points="11.8,932.6 20.0,951.6 28.2,950.9 36.5,949.8 44.7,947.1 52.9,962.1 61.1,967.2 69.4,951.2 77.6,951.9 85.8,949.5 94.0,962.0 102.3,932.4 110.5,948.3 118.7,950.9 126.9,958.9 135.2,946.5 143.4,937.1 151.6,941.4 159.8,937.1 168.1,941.0 176.3,945.1 184.5,942.0 192.7,939.7 201.0,937.8 209.2,938.5 217.4,946.5 225.6,960.6 233.8,966.8 242.1,955.7 250.3,957.4 258.5,962.5 266.7,969.0 275.0,953.1 283.2,963.2 291.4,956.0 299.6,945.8 307.9,952.8 316.1,939.7 324.3,936.4 332.5,938.3 340.8,943.6 349.0,939.3 357.2,943.6 365.4,948.7 373.7,944.3 381.9,953.8 390.1,965.7 398.3,931.0 406.6,952.3 414.8,947.5 423.0,947.2 431.2,958.9 439.4,939.3 447.7,949.9 455.9,963.5 464.1,950.7 472.3,952.1 480.6,956.3 488.8,965.5 497.0,956.0 505.2,942.0 513.5,962.0 521.7,960.3 529.9,950.7 538.1,964.7 546.4,970.8 554.6,967.3 562.8,949.9" fill="none" stroke="#f4a064" stroke-width="1.05" stroke-linejoin="round"/>
<path d="M7.7,930.5h8.2v4.2h-8.2zM15.9,949.5h8.2v4.2h-8.2zM24.1,948.8h8.2v4.2h-8.2zM32.4,947.7h8.2v4.2h-8.2zM40.6,945.0h8.2v4.2h-8.2zM48.8,960.0h8.2v4.2h-8.2zM57.0,965.1h8.2v4.2h-8.2zM65.3,949.1h8.2v4.2h-8.2zM73.5,949.8h8.2v4.2h-8.2zM81.7,947.4h8.2v4.2h-8.2zM89.9,959.9h8.2v4.2h-8.2zM98.2,930.3h8.2v4.2h-8.2zM106.4,946.2h8.2v4.2h-8.2zM114.6,948.8h8.2v4.2h-8.2zM122.8,956.8h8.2v4.2h-8.2zM131.1,944.4h8.2v4.2h-8.2zM139.3,935.0h8.2v4.2h-8.2zM147.5,939.3h8.2v4.2h-8.2zM155.7,935.0h8.2v4.2h-8.2zM164.0,938.9h8.2v4.2h-8.2zM172.2,943.0h8.2v4.2h-8.2zM180.4,939.9h8.2v4.2h-8.2zM188.6,937.6h8.2v4.2h-8.2zM196.9,935.7h8.2v4.2h-8.2zM205.1,936.4h8.2v4.2h-8.2zM213.3,944.4h8.2v4.2h-8.2zM221.5,958.5h8.2v4.2h-8.2zM229.7,964.7h8.2v4.2h-8.2zM238.0,953.6h8.2v4.2h-8.2zM246.2,955.3h8.2v4.2h-8.2zM254.4,960.4h8.2v4.2h-8.2zM262.6,966.9h8.2v4.2h-8.2zM270.9,951.0h8.2v4.2h-8.2zM279.1,961.1h8.2v4.2h-8.2zM287.3,953.9h8.2v4.2h-8.2zM295.5,943.7h8.2v4.2h-8.2zM303.8,950.7h8.2v4.2h-8.2zM312.0,937.6h8.2v4.2h-8.2zM320.2,934.3h8.2v4.2h-8.2zM328.4,936.2h8.2v4.2h-8.2zM336.7,941.5h8.2v4.2h-8.2zM344.9,937.2h8.2v4.2h-8.2zM353.1,941.5h8.2v4.2h-8.2zM361.3,946.6h8.2v4.2h-8.2zM369.6,942.2h8.2v4.2h-8.2zM377.8,951.7h8.2v4.2h-8.2zM386.0,963.6h8.2v4.2h-8.2zM394.2,928.9h8.2v4.2h-8.2zM402.5,950.2h8.2v4.2h-8.2zM410.7,945.4h8.2v4.2h-8.2zM418.9,945.1h8.2v4.2h-8.2zM427.1,956.8h8.2v4.2h-8.2zM435.3,937.2h8.2v4.2h-8.2zM443.6,947.8h8.2v4.2h-8.2zM451.8,961.4h8.2v4.2h-8.2zM460.0,948.6h8.2v4.2h-8.2zM468.2,950.0h8.2v4.2h-8.2zM476.5,954.2h8.2v4.2h-8.2zM484.7,963.4h8.2v4.2h-8.2zM492.9,953.9h8.2v4.2h-8.2zM501.1,939.9h8.2v4.2h-8.2zM509.4,959.9h8.2v4.2h-8.2zM517.6,958.2h8.2v4.2h-8.2zM525.8,948.6h8.2v4.2h-8.2zM534.0,962.6h8.2v4.2h-8.2zM542.3,968.7h8.2v4.2h-8.2zM550.5,965.2h8.2v4.2h-8.2zM558.7,947.8h8.2v4.2h-8.2z" fill="#f4a064"/>
<g font-size="2.3" fill="#ffffff" fill-opacity="0.78" text-anchor="middle" font-weight="bold"><text x="11.8" y="933.5">13.4%</text><text x="20.0" y="952.5">9.3%</text><text x="28.2" y="951.8">9.5%</text><text x="36.5" y="950.6">9.7%</text><text x="44.7" y="948.0">10.3%</text><text x="52.9" y="963.0">7.0%</text><text x="61.1" y="968.1">5.9%</text><text x="69.4" y="952.1">9.4%</text><text x="77.6" y="952.8">9.2%</text><text x="85.8" y="950.4">9.8%</text><text x="94.0" y="962.9">7.0%</text><text x="102.3" y="933.2">13.5%</text><text x="110.5" y="949.1">10.0%</text><text x="118.7" y="951.8">9.5%</text><text x="126.9" y="959.8">7.7%</text><text x="135.2" y="947.4">10.4%</text><text x="143.4" y="938.0">12.5%</text><text x="151.6" y="942.2">11.5%</text><text x="159.8" y="938.0">12.5%</text><text x="168.1" y="941.9">11.6%</text><text x="176.3" y="946.0">10.7%</text><text x="184.5" y="942.9">11.4%</text><text x="192.7" y="940.6">11.9%</text><text x="201.0" y="938.6">12.3%</text><text x="209.2" y="939.4">12.2%</text><text x="217.4" y="947.4">10.4%</text><text x="225.6" y="961.5">7.3%</text><text x="233.8" y="967.6">6.0%</text><text x="242.1" y="956.6">8.4%</text><text x="250.3" y="958.2">8.0%</text><text x="258.5" y="963.4">6.9%</text><text x="266.7" y="969.9">5.5%</text><text x="275.0" y="954.0">9.0%</text><text x="283.2" y="964.1">6.8%</text><text x="291.4" y="956.9">8.3%</text><text x="299.6" y="946.6">10.6%</text><text x="307.9" y="953.6">9.0%</text><text x="316.1" y="940.6">11.9%</text><text x="324.3" y="937.2">12.6%</text><text x="332.5" y="939.1">12.2%</text><text x="340.8" y="944.5">11.0%</text><text x="349.0" y="940.1">12.0%</text><text x="357.2" y="944.5">11.0%</text><text x="365.4" y="949.6">9.9%</text><text x="373.7" y="945.1">10.9%</text><text x="381.9" y="954.6">8.8%</text><text x="390.1" y="966.6">6.2%</text><text x="398.3" y="931.9">13.8%</text><text x="406.6" y="953.1">9.1%</text><text x="414.8" y="948.4">10.2%</text><text x="423.0" y="948.1">10.3%</text><text x="431.2" y="959.8">7.7%</text><text x="439.4" y="940.1">12.0%</text><text x="447.7" y="950.8">9.7%</text><text x="455.9" y="964.4">6.7%</text><text x="464.1" y="951.6">9.5%</text><text x="472.3" y="953.0">9.2%</text><text x="480.6" y="957.1">8.3%</text><text x="488.8" y="966.4">6.3%</text><text x="497.0" y="956.9">8.3%</text><text x="505.2" y="942.9">11.4%</text><text x="513.5" y="962.9">7.0%</text><text x="521.7" y="961.1">7.4%</text><text x="529.9" y="951.6">9.5%</text><text x="538.1" y="965.6">6.4%</text><text x="546.4" y="971.6">5.1%</text><text x="554.6" y="968.1">5.9%</text><text x="562.8" y="950.8">9.7%</text></g>
<polyline points="11.8,961.4 20.0,954.5 28.2,967.5 36.5,972.0 44.7,961.7 52.9,967.6 61.1,960.6 69.4,963.8 77.6,959.9 85.8,963.5 94.0,958.9 102.3,984.6 110.5,968.0 118.7,973.1 126.9,965.7 135.2,961.8 143.4,969.5 151.6,966.1 159.8,972.4 168.1,970.5 176.3,961.0 184.5,967.1 192.7,966.1 201.0,965.1 209.2,973.1 217.4,974.1 225.6,969.0 233.8,963.5 242.1,966.1 250.3,960.3 258.5,970.8 266.7,966.4 275.0,965.2 283.2,965.4 291.4,966.1 299.6,970.5 307.9,968.3 316.1,971.6 324.3,976.7 332.5,975.6 340.8,970.9 349.0,978.5 357.2,978.5 365.4,974.8 373.7,970.0 381.9,972.6 390.1,974.1 398.3,974.1 406.6,970.5 414.8,974.1 423.0,970.0 431.2,963.2 439.4,978.5 447.7,972.6 455.9,969.0 464.1,964.7 472.3,971.1 480.6,971.1 488.8,971.6 497.0,976.0 505.2,975.5 513.5,965.2 521.7,973.4 529.9,977.2 538.1,973.4 546.4,975.1 554.6,981.6 562.8,975.5" fill="none" stroke="#f01c1c" stroke-width="1.05" stroke-linejoin="round"/>
<path d="M7.7,959.3h8.2v4.2h-8.2zM15.9,952.4h8.2v4.2h-8.2zM24.1,965.4h8.2v4.2h-8.2zM32.4,969.9h8.2v4.2h-8.2zM40.6,959.6h8.2v4.2h-8.2zM48.8,965.5h8.2v4.2h-8.2zM57.0,958.5h8.2v4.2h-8.2zM65.3,961.7h8.2v4.2h-8.2zM73.5,957.8h8.2v4.2h-8.2zM81.7,961.4h8.2v4.2h-8.2zM89.9,956.8h8.2v4.2h-8.2zM98.2,982.5h8.2v4.2h-8.2zM106.4,965.9h8.2v4.2h-8.2zM114.6,971.0h8.2v4.2h-8.2zM122.8,963.6h8.2v4.2h-8.2zM131.1,959.7h8.2v4.2h-8.2zM139.3,967.4h8.2v4.2h-8.2zM147.5,964.0h8.2v4.2h-8.2zM155.7,970.3h8.2v4.2h-8.2zM164.0,968.4h8.2v4.2h-8.2zM172.2,958.9h8.2v4.2h-8.2zM180.4,965.0h8.2v4.2h-8.2zM188.6,964.0h8.2v4.2h-8.2zM196.9,963.0h8.2v4.2h-8.2zM205.1,971.0h8.2v4.2h-8.2zM213.3,972.0h8.2v4.2h-8.2zM221.5,966.9h8.2v4.2h-8.2zM229.7,961.4h8.2v4.2h-8.2zM238.0,964.0h8.2v4.2h-8.2zM246.2,958.2h8.2v4.2h-8.2zM254.4,968.7h8.2v4.2h-8.2zM262.6,964.3h8.2v4.2h-8.2zM270.9,963.1h8.2v4.2h-8.2zM279.1,963.3h8.2v4.2h-8.2zM287.3,964.0h8.2v4.2h-8.2zM295.5,968.4h8.2v4.2h-8.2zM303.8,966.2h8.2v4.2h-8.2zM312.0,969.5h8.2v4.2h-8.2zM320.2,974.6h8.2v4.2h-8.2zM328.4,973.5h8.2v4.2h-8.2zM336.7,968.8h8.2v4.2h-8.2zM344.9,976.4h8.2v4.2h-8.2zM353.1,976.4h8.2v4.2h-8.2zM361.3,972.7h8.2v4.2h-8.2zM369.6,967.9h8.2v4.2h-8.2zM377.8,970.5h8.2v4.2h-8.2zM386.0,972.0h8.2v4.2h-8.2zM394.2,972.0h8.2v4.2h-8.2zM402.5,968.4h8.2v4.2h-8.2zM410.7,972.0h8.2v4.2h-8.2zM418.9,967.9h8.2v4.2h-8.2zM427.1,961.1h8.2v4.2h-8.2zM435.3,976.4h8.2v4.2h-8.2zM443.6,970.5h8.2v4.2h-8.2zM451.8,966.9h8.2v4.2h-8.2zM460.0,962.6h8.2v4.2h-8.2zM468.2,969.0h8.2v4.2h-8.2zM476.5,969.0h8.2v4.2h-8.2zM484.7,969.5h8.2v4.2h-8.2zM492.9,973.9h8.2v4.2h-8.2zM501.1,973.4h8.2v4.2h-8.2zM509.4,963.1h8.2v4.2h-8.2zM517.6,971.3h8.2v4.2h-8.2zM525.8,975.1h8.2v4.2h-8.2zM534.0,971.3h8.2v4.2h-8.2zM542.3,973.0h8.2v4.2h-8.2zM550.5,979.5h8.2v4.2h-8.2zM558.7,973.4h8.2v4.2h-8.2z" fill="#f01c1c"/>
<g font-size="2.3" fill="#ffffff" fill-opacity="0.78" text-anchor="middle" font-weight="bold"><text x="11.8" y="962.2">7.2%</text><text x="20.0" y="955.4">8.7%</text><text x="28.2" y="968.4">5.8%</text><text x="36.5" y="972.9">4.8%</text><text x="44.7" y="962.6">7.1%</text><text x="52.9" y="968.5">5.8%</text><text x="61.1" y="961.5">7.3%</text><text x="69.4" y="964.6">6.6%</text><text x="77.6" y="960.8">7.5%</text><text x="85.8" y="964.4">6.7%</text><text x="94.0" y="959.8">7.7%</text><text x="102.3" y="985.5">2.1%</text><text x="110.5" y="968.9">5.7%</text><text x="118.7" y="974.0">4.6%</text><text x="126.9" y="966.6">6.2%</text><text x="135.2" y="962.6">7.1%</text><text x="143.4" y="970.4">5.4%</text><text x="151.6" y="967.0">6.1%</text><text x="159.8" y="973.2">4.8%</text><text x="168.1" y="971.4">5.2%</text><text x="176.3" y="961.9">7.2%</text><text x="184.5" y="968.0">5.9%</text><text x="192.7" y="967.0">6.1%</text><text x="201.0" y="966.0">6.4%</text><text x="209.2" y="974.0">4.6%</text><text x="217.4" y="975.0">4.4%</text><text x="225.6" y="969.9">5.5%</text><text x="233.8" y="964.4">6.7%</text><text x="242.1" y="967.0">6.1%</text><text x="250.3" y="961.1">7.4%</text><text x="258.5" y="971.6">5.1%</text><text x="266.7" y="967.2">6.1%</text><text x="275.0" y="966.1">6.3%</text><text x="283.2" y="966.2">6.3%</text><text x="291.4" y="967.0">6.1%</text><text x="299.6" y="971.4">5.2%</text><text x="307.9" y="969.1">5.7%</text><text x="316.1" y="972.5">4.9%</text><text x="324.3" y="977.6">3.8%</text><text x="332.5" y="976.5">4.1%</text><text x="340.8" y="971.8">5.1%</text><text x="349.0" y="979.4">3.4%</text><text x="357.2" y="979.4">3.4%</text><text x="365.4" y="975.6">4.2%</text><text x="373.7" y="970.9">5.3%</text><text x="381.9" y="973.5">4.7%</text><text x="390.1" y="975.0">4.4%</text><text x="398.3" y="975.0">4.4%</text><text x="406.6" y="971.4">5.2%</text><text x="414.8" y="975.0">4.4%</text><text x="423.0" y="970.9">5.3%</text><text x="431.2" y="964.1">6.8%</text><text x="439.4" y="979.4">3.4%</text><text x="447.7" y="973.5">4.7%</text><text x="455.9" y="969.9">5.5%</text><text x="464.1" y="965.6">6.4%</text><text x="472.3" y="972.0">5.0%</text><text x="480.6" y="972.0">5.0%</text><text x="488.8" y="972.5">4.9%</text><text x="497.0" y="976.9">4.0%</text><text x="505.2" y="976.4">4.1%</text><text x="513.5" y="966.1">6.3%</text><text x="521.7" y="974.2">4.5%</text><text x="529.9" y="978.1">3.7%</text><text x="538.1" y="974.2">4.5%</text><text x="546.4" y="976.0">4.2%</text><text x="554.6" y="982.5">2.8%</text><text x="562.8" y="976.4">4.1%</text></g>
<polyline points="110.5,978.0 118.7,984.6 126.9,974.8 135.2,979.2 143.4,984.6 151.6,981.4 159.8,979.6 168.1,977.7 176.3,979.2 184.5,983.5 192.7,980.6 201.0,978.5 209.2,989.3 217.4,982.1 225.6,981.4 233.8,979.2 242.1,977.7 250.3,982.1 258.5,980.6 266.7,991.5 275.0,981.4 283.2,978.5 291.4,982.8 299.6,979.2 307.9,982.1 316.1,991.5 324.3,985.0 332.5,979.9 340.8,982.1 349.0,982.1 357.2,981.4 365.4,979.9 373.7,979.2 381.9,978.5 390.1,982.1 398.3,977.7 406.6,985.7 414.8,981.4 423.0,980.6 431.2,984.3 439.4,974.1 447.7,990.8 455.9,981.3 464.1,976.9 472.3,981.2 480.6,980.3 488.8,977.7 497.0,981.2 505.2,977.7 513.5,979.8 521.7,982.1 529.9,982.1 538.1,979.8 546.4,981.6 554.6,978.6 562.8,981.2" fill="none" stroke="#9a52e0" stroke-width="1.05" stroke-linejoin="round"/>
<path d="M106.4,975.9h8.2v4.2h-8.2zM114.6,982.5h8.2v4.2h-8.2zM122.8,972.7h8.2v4.2h-8.2zM131.1,977.1h8.2v4.2h-8.2zM139.3,982.5h8.2v4.2h-8.2zM147.5,979.3h8.2v4.2h-8.2zM155.7,977.5h8.2v4.2h-8.2zM164.0,975.6h8.2v4.2h-8.2zM172.2,977.1h8.2v4.2h-8.2zM180.4,981.4h8.2v4.2h-8.2zM188.6,978.5h8.2v4.2h-8.2zM196.9,976.4h8.2v4.2h-8.2zM205.1,987.2h8.2v4.2h-8.2zM213.3,980.0h8.2v4.2h-8.2zM221.5,979.3h8.2v4.2h-8.2zM229.7,977.1h8.2v4.2h-8.2zM238.0,975.6h8.2v4.2h-8.2zM246.2,980.0h8.2v4.2h-8.2zM254.4,978.5h8.2v4.2h-8.2zM262.6,989.4h8.2v4.2h-8.2zM270.9,979.3h8.2v4.2h-8.2zM279.1,976.4h8.2v4.2h-8.2zM287.3,980.7h8.2v4.2h-8.2zM295.5,977.1h8.2v4.2h-8.2zM303.8,980.0h8.2v4.2h-8.2zM312.0,989.4h8.2v4.2h-8.2zM320.2,982.9h8.2v4.2h-8.2zM328.4,977.8h8.2v4.2h-8.2zM336.7,980.0h8.2v4.2h-8.2zM344.9,980.0h8.2v4.2h-8.2zM353.1,979.3h8.2v4.2h-8.2zM361.3,977.8h8.2v4.2h-8.2zM369.6,977.1h8.2v4.2h-8.2zM377.8,976.4h8.2v4.2h-8.2zM386.0,980.0h8.2v4.2h-8.2zM394.2,975.6h8.2v4.2h-8.2zM402.5,983.6h8.2v4.2h-8.2zM410.7,979.3h8.2v4.2h-8.2zM418.9,978.5h8.2v4.2h-8.2zM427.1,982.2h8.2v4.2h-8.2zM435.3,972.0h8.2v4.2h-8.2zM443.6,988.7h8.2v4.2h-8.2zM451.8,979.2h8.2v4.2h-8.2zM460.0,974.8h8.2v4.2h-8.2zM468.2,979.1h8.2v4.2h-8.2zM476.5,978.2h8.2v4.2h-8.2zM484.7,975.6h8.2v4.2h-8.2zM492.9,979.1h8.2v4.2h-8.2zM501.1,975.6h8.2v4.2h-8.2zM509.4,977.7h8.2v4.2h-8.2zM517.6,980.0h8.2v4.2h-8.2zM525.8,980.0h8.2v4.2h-8.2zM534.0,977.7h8.2v4.2h-8.2zM542.3,979.5h8.2v4.2h-8.2zM550.5,976.5h8.2v4.2h-8.2zM558.7,979.1h8.2v4.2h-8.2z" fill="#9a52e0"/>
<g font-size="2.3" fill="#ffffff" fill-opacity="0.78" text-anchor="middle" font-weight="bold"><text x="110.5" y="978.9">3.5%</text><text x="118.7" y="985.5">2.1%</text><text x="126.9" y="975.6">4.2%</text><text x="135.2" y="980.1">3.3%</text><text x="143.4" y="985.5">2.1%</text><text x="151.6" y="982.2">2.8%</text><text x="159.8" y="980.5">3.2%</text><text x="168.1" y="978.6">3.6%</text><text x="176.3" y="980.1">3.3%</text><text x="184.5" y="984.4">2.3%</text><text x="192.7" y="981.5">3.0%</text><text x="201.0" y="979.4">3.4%</text><text x="209.2" y="990.1">1.1%</text><text x="217.4" y="983.0">2.6%</text><text x="225.6" y="982.2">2.8%</text><text x="233.8" y="980.1">3.3%</text><text x="242.1" y="978.6">3.6%</text><text x="250.3" y="983.0">2.6%</text><text x="258.5" y="981.5">3.0%</text><text x="266.7" y="992.4">0.6%</text><text x="275.0" y="982.2">2.8%</text><text x="283.2" y="979.4">3.4%</text><text x="291.4" y="983.6">2.5%</text><text x="299.6" y="980.1">3.3%</text><text x="307.9" y="983.0">2.6%</text><text x="316.1" y="992.4">0.6%</text><text x="324.3" y="985.9">2.0%</text><text x="332.5" y="980.8">3.1%</text><text x="340.8" y="983.0">2.6%</text><text x="349.0" y="983.0">2.6%</text><text x="357.2" y="982.2">2.8%</text><text x="365.4" y="980.8">3.1%</text><text x="373.7" y="980.1">3.3%</text><text x="381.9" y="979.4">3.4%</text><text x="390.1" y="983.0">2.6%</text><text x="398.3" y="978.6">3.6%</text><text x="406.6" y="986.6">1.9%</text><text x="414.8" y="982.2">2.8%</text><text x="423.0" y="981.5">3.0%</text><text x="431.2" y="985.1">2.2%</text><text x="439.4" y="975.0">4.4%</text><text x="447.7" y="991.6">0.7%</text><text x="455.9" y="982.1">2.8%</text><text x="464.1" y="977.8">3.8%</text><text x="472.3" y="982.1">2.8%</text><text x="480.6" y="981.1">3.0%</text><text x="488.8" y="978.6">3.6%</text><text x="497.0" y="982.1">2.8%</text><text x="505.2" y="978.6">3.6%</text><text x="513.5" y="980.6">3.1%</text><text x="521.7" y="983.0">2.6%</text><text x="529.9" y="983.0">2.6%</text><text x="538.1" y="980.6">3.1%</text><text x="546.4" y="982.5">2.8%</text><text x="554.6" y="979.5">3.4%</text><text x="562.8" y="982.1">2.8%</text></g>
<polyline points="69.4,987.9 77.6,991.8 85.8,978.0 94.0,986.0 102.3,992.0 110.5,991.5 118.7,992.0 126.9,990.8 135.2,990.8 143.4,991.5 151.6,987.2 159.8,987.9 168.1,992.2 176.3,992.2 184.5,987.5 192.7,990.8 201.0,990.1 209.2,991.5 217.4,989.3 225.6,984.3 233.8,990.8 242.1,986.4 250.3,991.5 258.5,988.0 266.7,985.0 275.0,991.5 283.2,983.5 291.4,986.4 299.6,987.9 307.9,983.5 316.1,988.6 324.3,984.0 332.5,986.4 340.8,990.8 349.0,990.8 357.2,989.3 365.4,992.2 373.7,991.5 381.9,990.8 390.1,991.5 398.3,990.8 406.6,987.9 414.8,991.5 423.0,987.9 431.2,990.8 439.4,991.5 447.7,982.8 455.9,988.8 464.1,988.2 472.3,986.4 480.6,990.8 488.8,989.9 497.0,984.0 505.2,991.7 513.5,987.3 521.7,992.5 529.9,989.0 538.1,986.4 546.4,989.9 554.6,985.6 562.8,983.8" fill="none" stroke="#f062ec" stroke-width="1.05" stroke-linejoin="round"/>
<path d="M65.3,985.8h8.2v4.2h-8.2zM73.5,989.7h8.2v4.2h-8.2zM81.7,975.9h8.2v4.2h-8.2zM89.9,983.9h8.2v4.2h-8.2zM98.2,989.9h8.2v4.2h-8.2zM106.4,989.4h8.2v4.2h-8.2zM114.6,989.9h8.2v4.2h-8.2zM122.8,988.7h8.2v4.2h-8.2zM131.1,988.7h8.2v4.2h-8.2zM139.3,989.4h8.2v4.2h-8.2zM147.5,985.1h8.2v4.2h-8.2zM155.7,985.8h8.2v4.2h-8.2zM164.0,990.1h8.2v4.2h-8.2zM172.2,990.1h8.2v4.2h-8.2zM180.4,985.4h8.2v4.2h-8.2zM188.6,988.7h8.2v4.2h-8.2zM196.9,988.0h8.2v4.2h-8.2zM205.1,989.4h8.2v4.2h-8.2zM213.3,987.2h8.2v4.2h-8.2zM221.5,982.2h8.2v4.2h-8.2zM229.7,988.7h8.2v4.2h-8.2zM238.0,984.3h8.2v4.2h-8.2zM246.2,989.4h8.2v4.2h-8.2zM254.4,985.9h8.2v4.2h-8.2zM262.6,982.9h8.2v4.2h-8.2zM270.9,989.4h8.2v4.2h-8.2zM279.1,981.4h8.2v4.2h-8.2zM287.3,984.3h8.2v4.2h-8.2zM295.5,985.8h8.2v4.2h-8.2zM303.8,981.4h8.2v4.2h-8.2zM312.0,986.5h8.2v4.2h-8.2zM320.2,981.9h8.2v4.2h-8.2zM328.4,984.3h8.2v4.2h-8.2zM336.7,988.7h8.2v4.2h-8.2zM344.9,988.7h8.2v4.2h-8.2zM353.1,987.2h8.2v4.2h-8.2zM361.3,990.1h8.2v4.2h-8.2zM369.6,989.4h8.2v4.2h-8.2zM377.8,988.7h8.2v4.2h-8.2zM386.0,989.4h8.2v4.2h-8.2zM394.2,988.7h8.2v4.2h-8.2zM402.5,985.8h8.2v4.2h-8.2zM410.7,989.4h8.2v4.2h-8.2zM418.9,985.8h8.2v4.2h-8.2zM427.1,988.7h8.2v4.2h-8.2zM435.3,989.4h8.2v4.2h-8.2zM443.6,980.7h8.2v4.2h-8.2zM451.8,986.7h8.2v4.2h-8.2zM460.0,986.1h8.2v4.2h-8.2zM468.2,984.3h8.2v4.2h-8.2zM476.5,988.7h8.2v4.2h-8.2zM484.7,987.8h8.2v4.2h-8.2zM492.9,981.9h8.2v4.2h-8.2zM501.1,989.6h8.2v4.2h-8.2zM509.4,985.2h8.2v4.2h-8.2zM517.6,990.4h8.2v4.2h-8.2zM525.8,986.9h8.2v4.2h-8.2zM534.0,984.3h8.2v4.2h-8.2zM542.3,987.8h8.2v4.2h-8.2zM550.5,983.5h8.2v4.2h-8.2zM558.7,981.7h8.2v4.2h-8.2z" fill="#f062ec"/>
<g font-size="2.3" fill="#ffffff" fill-opacity="0.78" text-anchor="middle" font-weight="bold"><text x="69.4" y="988.8">1.4%</text><text x="77.6" y="992.6">0.5%</text><text x="85.8" y="978.9">3.5%</text><text x="94.0" y="986.9">1.8%</text><text x="102.3" y="992.9">0.5%</text><text x="110.5" y="992.4">0.6%</text><text x="118.7" y="992.9">0.5%</text><text x="126.9" y="991.6">0.7%</text><text x="135.2" y="991.6">0.7%</text><text x="143.4" y="992.4">0.6%</text><text x="151.6" y="988.1">1.5%</text><text x="159.8" y="988.8">1.4%</text><text x="168.1" y="993.1">0.4%</text><text x="176.3" y="993.1">0.4%</text><text x="184.5" y="988.4">1.5%</text><text x="192.7" y="991.6">0.7%</text><text x="201.0" y="991.0">0.9%</text><text x="209.2" y="992.4">0.6%</text><text x="217.4" y="990.1">1.1%</text><text x="225.6" y="985.1">2.2%</text><text x="233.8" y="991.6">0.7%</text><text x="242.1" y="987.2">1.7%</text><text x="250.3" y="992.4">0.6%</text><text x="258.5" y="988.9">1.4%</text><text x="266.7" y="985.9">2.0%</text><text x="275.0" y="992.4">0.6%</text><text x="283.2" y="984.4">2.3%</text><text x="291.4" y="987.2">1.7%</text><text x="299.6" y="988.8">1.4%</text><text x="307.9" y="984.4">2.3%</text><text x="316.1" y="989.5">1.2%</text><text x="324.3" y="984.9">2.2%</text><text x="332.5" y="987.2">1.7%</text><text x="340.8" y="991.6">0.7%</text><text x="349.0" y="991.6">0.7%</text><text x="357.2" y="990.1">1.1%</text><text x="365.4" y="993.1">0.4%</text><text x="373.7" y="992.4">0.6%</text><text x="381.9" y="991.6">0.7%</text><text x="390.1" y="992.4">0.6%</text><text x="398.3" y="991.6">0.7%</text><text x="406.6" y="988.8">1.4%</text><text x="414.8" y="992.4">0.6%</text><text x="423.0" y="988.8">1.4%</text><text x="431.2" y="991.6">0.7%</text><text x="439.4" y="992.4">0.6%</text><text x="447.7" y="983.6">2.5%</text><text x="455.9" y="989.6">1.2%</text><text x="464.1" y="989.1">1.3%</text><text x="472.3" y="987.2">1.7%</text><text x="480.6" y="991.6">0.7%</text><text x="488.8" y="990.8">0.9%</text><text x="497.0" y="984.9">2.2%</text><text x="505.2" y="992.6">0.5%</text><text x="513.5" y="988.1">1.5%</text><text x="521.7" y="993.4">0.4%</text><text x="529.9" y="989.9">1.1%</text><text x="538.1" y="987.2">1.7%</text><text x="546.4" y="990.8">0.9%</text><text x="554.6" y="986.5">1.9%</text><text x="562.8" y="984.6">2.3%</text></g>
<polyline points="69.4,980.7 77.6,975.9 85.8,990.0 94.0,990.1 102.3,987.9" fill="none" stroke="#19a850" stroke-width="1.05" stroke-linejoin="round"/>
<path d="M65.3,978.6h8.2v4.2h-8.2zM73.5,973.8h8.2v4.2h-8.2zM81.7,987.9h8.2v4.2h-8.2zM89.9,988.0h8.2v4.2h-8.2zM98.2,985.8h8.2v4.2h-8.2z" fill="#19a850"/>
<g font-size="2.3" fill="#ffffff" fill-opacity="0.78" text-anchor="middle" font-weight="bold"><text x="69.4" y="981.6">2.9%</text><text x="77.6" y="976.8">4.0%</text><text x="85.8" y="990.9">0.9%</text><text x="94.0" y="991.0">0.9%</text><text x="102.3" y="988.8">1.4%</text></g>
<polyline points="11.8,978.5 20.0,975.6 28.2,974.9 36.5,968.6 44.7,974.9 52.9,974.0 61.1,973.7 69.4,982.4 77.6,983.9 85.8,981.7 94.0,973.0 102.3,978.0 110.5,981.4 118.7,978.9 126.9,983.1 135.2,982.5 143.4,975.3 151.6,984.3 159.8,983.5 168.1,974.4 176.3,985.7 184.5,980.2 192.7,978.0 201.0,982.1 209.2,985.7 217.4,978.7 225.6,973.8 233.8,982.8 242.1,985.7 250.3,976.3 258.5,986.4 266.7,982.1 275.0,977.7 283.2,971.9 291.4,990.0 299.6,984.3 307.9,973.4 316.1,985.7 324.3,980.6 332.5,982.8 340.8,980.6 349.0,974.8 357.2,985.7 365.4,982.1 373.7,982.8 381.9,982.8 390.1,978.5 398.3,985.7 406.6,981.4 414.8,985.0 423.0,984.3 431.2,979.9 439.4,982.1 447.7,987.2 455.9,985.7 464.1,982.1 472.3,977.7 480.6,983.0 488.8,982.1 497.0,971.6 505.2,980.3 513.5,984.7 521.7,984.7 529.9,985.6 538.1,989.0 546.4,986.4 554.6,989.0 562.8,991.7" fill="none" stroke="#8f8f8f" stroke-width="1.05" stroke-linejoin="round"/>
<path d="M7.7,976.4h8.2v4.2h-8.2zM15.9,973.5h8.2v4.2h-8.2zM24.1,972.8h8.2v4.2h-8.2zM32.4,966.5h8.2v4.2h-8.2zM40.6,972.8h8.2v4.2h-8.2zM48.8,971.9h8.2v4.2h-8.2zM57.0,971.6h8.2v4.2h-8.2zM65.3,980.3h8.2v4.2h-8.2zM73.5,981.8h8.2v4.2h-8.2zM81.7,979.6h8.2v4.2h-8.2zM89.9,970.9h8.2v4.2h-8.2zM98.2,975.9h8.2v4.2h-8.2zM106.4,979.3h8.2v4.2h-8.2zM114.6,976.8h8.2v4.2h-8.2zM122.8,981.0h8.2v4.2h-8.2zM131.1,980.4h8.2v4.2h-8.2zM139.3,973.2h8.2v4.2h-8.2zM147.5,982.2h8.2v4.2h-8.2zM155.7,981.4h8.2v4.2h-8.2zM164.0,972.3h8.2v4.2h-8.2zM172.2,983.6h8.2v4.2h-8.2zM180.4,978.1h8.2v4.2h-8.2zM188.6,975.9h8.2v4.2h-8.2zM196.9,980.0h8.2v4.2h-8.2zM205.1,983.6h8.2v4.2h-8.2zM213.3,976.6h8.2v4.2h-8.2zM221.5,971.7h8.2v4.2h-8.2zM229.7,980.7h8.2v4.2h-8.2zM238.0,983.6h8.2v4.2h-8.2zM246.2,974.2h8.2v4.2h-8.2zM254.4,984.3h8.2v4.2h-8.2zM262.6,980.0h8.2v4.2h-8.2zM270.9,975.6h8.2v4.2h-8.2zM279.1,969.8h8.2v4.2h-8.2zM287.3,987.9h8.2v4.2h-8.2zM295.5,982.2h8.2v4.2h-8.2zM303.8,971.3h8.2v4.2h-8.2zM312.0,983.6h8.2v4.2h-8.2zM320.2,978.5h8.2v4.2h-8.2zM328.4,980.7h8.2v4.2h-8.2zM336.7,978.5h8.2v4.2h-8.2zM344.9,972.7h8.2v4.2h-8.2zM353.1,983.6h8.2v4.2h-8.2zM361.3,980.0h8.2v4.2h-8.2zM369.6,980.7h8.2v4.2h-8.2zM377.8,980.7h8.2v4.2h-8.2zM386.0,976.4h8.2v4.2h-8.2zM394.2,983.6h8.2v4.2h-8.2zM402.5,979.3h8.2v4.2h-8.2zM410.7,982.9h8.2v4.2h-8.2zM418.9,982.2h8.2v4.2h-8.2zM427.1,977.8h8.2v4.2h-8.2zM435.3,980.0h8.2v4.2h-8.2zM443.6,985.1h8.2v4.2h-8.2zM451.8,983.6h8.2v4.2h-8.2zM460.0,980.0h8.2v4.2h-8.2zM468.2,975.6h8.2v4.2h-8.2zM476.5,980.9h8.2v4.2h-8.2zM484.7,980.0h8.2v4.2h-8.2zM492.9,969.5h8.2v4.2h-8.2zM501.1,978.2h8.2v4.2h-8.2zM509.4,982.6h8.2v4.2h-8.2zM517.6,982.6h8.2v4.2h-8.2zM525.8,983.5h8.2v4.2h-8.2zM534.0,986.9h8.2v4.2h-8.2zM542.3,984.3h8.2v4.2h-8.2zM550.5,986.9h8.2v4.2h-8.2zM558.7,989.6h8.2v4.2h-8.2z" fill="#8f8f8f"/>
<g font-size="2.3" fill="#ffffff" fill-opacity="0.78" text-anchor="middle" font-weight="bold"><text x="11.8" y="979.4">3.4%</text><text x="20.0" y="976.5">4.1%</text><text x="28.2" y="975.8">4.2%</text><text x="36.5" y="969.5">5.6%</text><text x="44.7" y="975.8">4.2%</text><text x="52.9" y="974.9">4.4%</text><text x="61.1" y="974.6">4.5%</text><text x="69.4" y="983.2">2.6%</text><text x="77.6" y="984.8">2.2%</text><text x="85.8" y="982.6">2.7%</text><text x="94.0" y="973.9">4.6%</text><text x="102.3" y="978.9">3.5%</text><text x="110.5" y="982.2">2.8%</text><text x="118.7" y="979.8">3.3%</text><text x="126.9" y="984.0">2.4%</text><text x="135.2" y="983.4">2.6%</text><text x="143.4" y="976.1">4.1%</text><text x="151.6" y="985.1">2.2%</text><text x="159.8" y="984.4">2.3%</text><text x="168.1" y="975.2">4.3%</text><text x="176.3" y="986.6">1.9%</text><text x="184.5" y="981.1">3.1%</text><text x="192.7" y="978.9">3.5%</text><text x="201.0" y="983.0">2.6%</text><text x="209.2" y="986.6">1.9%</text><text x="217.4" y="979.6">3.4%</text><text x="225.6" y="974.6">4.5%</text><text x="233.8" y="983.6">2.5%</text><text x="242.1" y="986.6">1.9%</text><text x="250.3" y="977.1">3.9%</text><text x="258.5" y="987.2">1.7%</text><text x="266.7" y="983.0">2.6%</text><text x="275.0" y="978.6">3.6%</text><text x="283.2" y="972.8">4.9%</text><text x="291.4" y="990.9">0.9%</text><text x="299.6" y="985.1">2.2%</text><text x="307.9" y="974.2">4.5%</text><text x="316.1" y="986.6">1.9%</text><text x="324.3" y="981.5">3.0%</text><text x="332.5" y="983.6">2.5%</text><text x="340.8" y="981.5">3.0%</text><text x="349.0" y="975.6">4.2%</text><text x="357.2" y="986.6">1.9%</text><text x="365.4" y="983.0">2.6%</text><text x="373.7" y="983.6">2.5%</text><text x="381.9" y="983.6">2.5%</text><text x="390.1" y="979.4">3.4%</text><text x="398.3" y="986.6">1.9%</text><text x="406.6" y="982.2">2.8%</text><text x="414.8" y="985.9">2.0%</text><text x="423.0" y="985.1">2.2%</text><text x="431.2" y="980.8">3.1%</text><text x="439.4" y="983.0">2.6%</text><text x="447.7" y="988.1">1.5%</text><text x="455.9" y="986.6">1.9%</text><text x="464.1" y="983.0">2.6%</text><text x="472.3" y="978.6">3.6%</text><text x="480.6" y="983.9">2.4%</text><text x="488.8" y="983.0">2.6%</text><text x="497.0" y="972.5">4.9%</text><text x="505.2" y="981.1">3.0%</text><text x="513.5" y="985.6">2.1%</text><text x="521.7" y="985.6">2.1%</text><text x="529.9" y="986.5">1.9%</text><text x="538.1" y="989.9">1.1%</text><text x="546.4" y="987.2">1.7%</text><text x="554.6" y="989.9">1.1%</text><text x="562.8" y="992.6">0.5%</text></g>
<polyline points="11.8,904.9 20.0,898.8 28.2,899.1 36.5,918.5 44.7,927.4 52.9,923.6 61.1,921.5 69.4,925.1 77.6,934.0 85.8,936.1 94.0,937.4 102.3,937.5 110.5,936.4 118.7,944.6 126.9,949.0 135.2,955.5 143.4,942.2 151.6,946.5 159.8,945.8 168.1,945.1 176.3,958.4 184.5,953.8 192.7,936.1 201.0,941.4 209.2,942.6 217.4,926.5 225.6,934.5 233.8,916.0 242.1,932.4 250.3,943.6 258.5,934.2 266.7,940.7 275.0,948.4 283.2,940.7 291.4,935.6 299.6,943.6 307.9,944.3 316.1,944.3 324.3,950.9 332.5,943.6 340.8,940.3 349.0,956.7 357.2,950.2 365.4,952.3 373.7,954.5 381.9,945.8 390.1,956.0 398.3,952.3 406.6,948.0 414.8,951.6 423.0,950.9 431.2,950.9 439.4,970.0 447.7,957.7 455.9,954.8 464.1,961.2 472.3,965.2 480.6,946.7 488.8,955.1 497.0,966.1 505.2,955.1 513.5,959.4 521.7,954.6 529.9,962.1 538.1,957.2 546.4,964.7 554.6,952.5 562.8,959.1" fill="none" stroke="#0a0a0a" stroke-width="1.05" stroke-linejoin="round"/>
<path d="M7.7,902.8h8.2v4.2h-8.2zM15.9,896.7h8.2v4.2h-8.2zM24.1,897.0h8.2v4.2h-8.2zM32.4,916.4h8.2v4.2h-8.2zM40.6,925.3h8.2v4.2h-8.2zM48.8,921.5h8.2v4.2h-8.2zM57.0,919.4h8.2v4.2h-8.2zM65.3,923.0h8.2v4.2h-8.2zM73.5,931.9h8.2v4.2h-8.2zM81.7,934.0h8.2v4.2h-8.2zM89.9,935.3h8.2v4.2h-8.2zM98.2,935.4h8.2v4.2h-8.2zM106.4,934.3h8.2v4.2h-8.2zM114.6,942.5h8.2v4.2h-8.2zM122.8,946.9h8.2v4.2h-8.2zM131.1,953.4h8.2v4.2h-8.2zM139.3,940.1h8.2v4.2h-8.2zM147.5,944.4h8.2v4.2h-8.2zM155.7,943.7h8.2v4.2h-8.2zM164.0,943.0h8.2v4.2h-8.2zM172.2,956.3h8.2v4.2h-8.2zM180.4,951.7h8.2v4.2h-8.2zM188.6,934.0h8.2v4.2h-8.2zM196.9,939.3h8.2v4.2h-8.2zM205.1,940.5h8.2v4.2h-8.2zM213.3,924.4h8.2v4.2h-8.2zM221.5,932.4h8.2v4.2h-8.2zM229.7,913.9h8.2v4.2h-8.2zM238.0,930.3h8.2v4.2h-8.2zM246.2,941.5h8.2v4.2h-8.2zM254.4,932.1h8.2v4.2h-8.2zM262.6,938.6h8.2v4.2h-8.2zM270.9,946.3h8.2v4.2h-8.2zM279.1,938.6h8.2v4.2h-8.2zM287.3,933.5h8.2v4.2h-8.2zM295.5,941.5h8.2v4.2h-8.2zM303.8,942.2h8.2v4.2h-8.2zM312.0,942.2h8.2v4.2h-8.2zM320.2,948.8h8.2v4.2h-8.2zM328.4,941.5h8.2v4.2h-8.2zM336.7,938.2h8.2v4.2h-8.2zM344.9,954.6h8.2v4.2h-8.2zM353.1,948.1h8.2v4.2h-8.2zM361.3,950.2h8.2v4.2h-8.2zM369.6,952.4h8.2v4.2h-8.2zM377.8,943.7h8.2v4.2h-8.2zM386.0,953.9h8.2v4.2h-8.2zM394.2,950.2h8.2v4.2h-8.2zM402.5,945.9h8.2v4.2h-8.2zM410.7,949.5h8.2v4.2h-8.2zM418.9,948.8h8.2v4.2h-8.2zM427.1,948.8h8.2v4.2h-8.2zM435.3,967.9h8.2v4.2h-8.2zM443.6,955.6h8.2v4.2h-8.2zM451.8,952.7h8.2v4.2h-8.2zM460.0,959.1h8.2v4.2h-8.2zM468.2,963.1h8.2v4.2h-8.2zM476.5,944.6h8.2v4.2h-8.2zM484.7,953.0h8.2v4.2h-8.2zM492.9,964.0h8.2v4.2h-8.2zM501.1,953.0h8.2v4.2h-8.2zM509.4,957.3h8.2v4.2h-8.2zM517.6,952.5h8.2v4.2h-8.2zM525.8,960.0h8.2v4.2h-8.2zM534.0,955.1h8.2v4.2h-8.2zM542.3,962.6h8.2v4.2h-8.2zM550.5,950.4h8.2v4.2h-8.2zM558.7,957.0h8.2v4.2h-8.2z" fill="#0a0a0a"/>
<g font-size="2.3" fill="#ffffff" fill-opacity="0.78" text-anchor="middle" font-weight="bold"><text x="11.8" y="905.8">19.5%</text><text x="20.0" y="899.6">20.8%</text><text x="28.2" y="900.0">20.8%</text><text x="36.5" y="919.4">16.5%</text><text x="44.7" y="928.2">14.6%</text><text x="52.9" y="924.5">15.4%</text><text x="61.1" y="922.4">15.9%</text><text x="69.4" y="926.0">15.1%</text><text x="77.6" y="934.9">13.1%</text><text x="85.8" y="937.0">12.7%</text><text x="94.0" y="938.2">12.4%</text><text x="102.3" y="938.4">12.4%</text><text x="110.5" y="937.2">12.6%</text><text x="118.7" y="945.5">10.8%</text><text x="126.9" y="949.9">9.9%</text><text x="135.2" y="956.4">8.4%</text><text x="143.4" y="943.1">11.4%</text><text x="151.6" y="947.4">10.4%</text><text x="159.8" y="946.6">10.6%</text><text x="168.1" y="946.0">10.7%</text><text x="176.3" y="959.2">7.8%</text><text x="184.5" y="954.6">8.8%</text><text x="192.7" y="937.0">12.7%</text><text x="201.0" y="942.2">11.5%</text><text x="209.2" y="943.5">11.3%</text><text x="217.4" y="927.4">14.8%</text><text x="225.6" y="935.4">13.0%</text><text x="233.8" y="916.9">17.1%</text><text x="242.1" y="933.2">13.5%</text><text x="250.3" y="944.5">11.0%</text><text x="258.5" y="935.1">13.1%</text><text x="266.7" y="941.6">11.7%</text><text x="275.0" y="949.2">10.0%</text><text x="283.2" y="941.6">11.7%</text><text x="291.4" y="936.5">12.8%</text><text x="299.6" y="944.5">11.0%</text><text x="307.9" y="945.1">10.9%</text><text x="316.1" y="945.1">10.9%</text><text x="324.3" y="951.8">9.5%</text><text x="332.5" y="944.5">11.0%</text><text x="340.8" y="941.1">11.8%</text><text x="349.0" y="957.6">8.2%</text><text x="357.2" y="951.1">9.6%</text><text x="365.4" y="953.1">9.1%</text><text x="373.7" y="955.4">8.7%</text><text x="381.9" y="946.6">10.6%</text><text x="390.1" y="956.9">8.3%</text><text x="398.3" y="953.1">9.1%</text><text x="406.6" y="948.9">10.1%</text><text x="414.8" y="952.5">9.3%</text><text x="423.0" y="951.8">9.5%</text><text x="431.2" y="951.8">9.5%</text><text x="439.4" y="970.9">5.3%</text><text x="447.7" y="958.6">8.0%</text><text x="455.9" y="955.6">8.6%</text><text x="464.1" y="962.1">7.2%</text><text x="472.3" y="966.1">6.3%</text><text x="480.6" y="947.6">10.4%</text><text x="488.8" y="956.0">8.5%</text><text x="497.0" y="967.0">6.1%</text><text x="505.2" y="956.0">8.5%</text><text x="513.5" y="960.2">7.6%</text><text x="521.7" y="955.5">8.6%</text><text x="529.9" y="963.0">7.0%</text><text x="538.1" y="958.1">8.1%</text><text x="546.4" y="965.6">6.4%</text><text x="554.6" y="953.4">9.1%</text><text x="562.8" y="960.0">7.7%</text></g>
<g font-size="2.1" fill="#6f6f6f" text-anchor="middle"><text x="11.8" y="998.0" textLength="5.6" lengthAdjust="spacingAndGlyphs">23-Mar</text><text x="20.0" y="998.0" textLength="5.6" lengthAdjust="spacingAndGlyphs">24-Mar</text><text x="28.2" y="998.0" textLength="5.6" lengthAdjust="spacingAndGlyphs">25-Mar</text><text x="36.5" y="998.0" textLength="5.6" lengthAdjust="spacingAndGlyphs">26-Mar</text><text x="44.7" y="998.0" textLength="5.6" lengthAdjust="spacingAndGlyphs">27-Mar</text><text x="52.9" y="998.0" textLength="5.6" lengthAdjust="spacingAndGlyphs">28-Mar</text><text x="61.1" y="998.0" textLength="5.6" lengthAdjust="spacingAndGlyphs">29-Mar</text><text x="69.4" y="998.0" textLength="5.6" lengthAdjust="spacingAndGlyphs">30-Mar</text><text x="77.6" y="998.0" textLength="5.6" lengthAdjust="spacingAndGlyphs">31-Mar</text><text x="85.8" y="998.0" textLength="5.6" lengthAdjust="spacingAndGlyphs">01-Abr</text><text x="94.0" y="998.0" textLength="5.6" lengthAdjust="spacingAndGlyphs">02-Abr</text><text x="102.3" y="998.0" textLength="5.6" lengthAdjust="spacingAndGlyphs">03-Abr</text><text x="110.5" y="998.0" textLength="5.6" lengthAdjust="spacingAndGlyphs">04-Abr</text><text x="118.7" y="998.0" textLength="5.6" lengthAdjust="spacingAndGlyphs">05-Abr</text><text x="126.9" y="998.0" textLength="5.6" lengthAdjust="spacingAndGlyphs">06-Abr</text><text x="135.2" y="998.0" textLength="5.6" lengthAdjust="spacingAndGlyphs">07-Abr</text><text x="143.4" y="998.0" textLength="5.6" lengthAdjust="spacingAndGlyphs">08-Abr</text><text x="151.6" y="998.0" textLength="5.6" lengthAdjust="spacingAndGlyphs">09-Abr</text><text x="159.8" y="998.0" textLength="5.6" lengthAdjust="spacingAndGlyphs">10-Abr</text><text x="168.1" y="998.0" textLength="5.6" lengthAdjust="spacingAndGlyphs">11-Abr</text><text x="176.3" y="998.0" textLength="5.6" lengthAdjust="spacingAndGlyphs">12-Abr</text><text x="184.5" y="998.0" textLength="5.6" lengthAdjust="spacingAndGlyphs">13-Abr</text><text x="192.7" y="998.0" textLength="5.6" lengthAdjust="spacingAndGlyphs">14-Abr</text><text x="201.0" y="998.0" textLength="5.6" lengthAdjust="spacingAndGlyphs">15-Abr</text><text x="209.2" y="998.0" textLength="5.6" lengthAdjust="spacingAndGlyphs">16-Abr</text><text x="217.4" y="998.0" textLength="5.6" lengthAdjust="spacingAndGlyphs">17-Abr</text><text x="225.6" y="998.0" textLength="5.6" lengthAdjust="spacingAndGlyphs">18-Abr</text><text x="233.8" y="998.0" textLength="5.6" lengthAdjust="spacingAndGlyphs">19-Abr</text><text x="242.1" y="998.0" textLength="5.6" lengthAdjust="spacingAndGlyphs">20-Abr</text><text x="250.3" y="998.0" textLength="5.6" lengthAdjust="spacingAndGlyphs">21-Abr</text><text x="258.5" y="998.0" textLength="5.6" lengthAdjust="spacingAndGlyphs">22-Abr</text><text x="266.7" y="998.0" textLength="5.6" lengthAdjust="spacingAndGlyphs">23-Abr</text><text x="275.0" y="998.0" textLength="5.6" lengthAdjust="spacingAndGlyphs">24-Abr</text><text x="283.2" y="998.0" textLength="5.6" lengthAdjust="spacingAndGlyphs">25-Abr</text><text x="291.4" y="998.0" textLength="5.6" lengthAdjust="spacingAndGlyphs">26-Abr</text><text x="299.6" y="998.0" textLength="5.6" lengthAdjust="spacingAndGlyphs">27-Abr</text><text x="307.9" y="998.0" textLength="5.6" lengthAdjust="spacingAndGlyphs">28-Abr</text><text x="316.1" y="998.0" textLength="5.6" lengthAdjust="spacingAndGlyphs">29-Abr</text><text x="324.3" y="998.0" textLength="5.6" lengthAdjust="spacingAndGlyphs">30-Abr</text><text x="332.5" y="998.0" textLength="5.6" lengthAdjust="spacingAndGlyphs">01-May</text><text x="340.8" y="998.0" textLength="5.6" lengthAdjust="spacingAndGlyphs">02-May</text><text x="349.0" y="998.0" textLength="5.6" lengthAdjust="spacingAndGlyphs">03-May</text><text x="357.2" y="998.0" textLength="5.6" lengthAdjust="spacingAndGlyphs">04-May</text><text x="365.4" y="998.0" textLength="5.6" lengthAdjust="spacingAndGlyphs">05-May</text><text x="373.7" y="998.0" textLength="5.6" lengthAdjust="spacingAndGlyphs">06-May</text><text x="381.9" y="998.0" textLength="5.6" lengthAdjust="spacingAndGlyphs">07-May</text><text x="390.1" y="998.0" textLength="5.6" lengthAdjust="spacingAndGlyphs">08-May</text><text x="398.3" y="998.0" textLength="5.6" lengthAdjust="spacingAndGlyphs">09-May</text><text x="406.6" y="998.0" textLength="5.6" lengthAdjust="spacingAndGlyphs">10-May</text><text x="414.8" y="998.0" textLength="5.6" lengthAdjust="spacingAndGlyphs">11-May</text><text x="423.0" y="998.0" textLength="5.6" lengthAdjust="spacingAndGlyphs">12-May</text><text x="431.2" y="998.0" textLength="5.6" lengthAdjust="spacingAndGlyphs">13-May</text><text x="439.4" y="998.0" textLength="5.6" lengthAdjust="spacingAndGlyphs">14-May</text><text x="447.7" y="998.0" textLength="5.6" lengthAdjust="spacingAndGlyphs">15-May</text><text x="455.9" y="998.0" textLength="5.6" lengthAdjust="spacingAndGlyphs">16-May</text><text x="464.1" y="998.0" textLength="5.6" lengthAdjust="spacingAndGlyphs">17-May</text><text x="472.3" y="998.0" textLength="5.6" lengthAdjust="spacingAndGlyphs">18-May</text><text x="480.6" y="998.0" textLength="5.6" lengthAdjust="spacingAndGlyphs">19-May</text><text x="488.8" y="998.0" textLength="5.6" lengthAdjust="spacingAndGlyphs">20-May</text><text x="497.0" y="998.0" textLength="5.6" lengthAdjust="spacingAndGlyphs">21-May</text><text x="505.2" y="998.0" textLength="5.6" lengthAdjust="spacingAndGlyphs">22-May</text><text x="513.5" y="998.0" textLength="5.6" lengthAdjust="spacingAndGlyphs">23-May</text><text x="521.7" y="998.0" textLength="5.6" lengthAdjust="spacingAndGlyphs">24-May</text><text x="529.9" y="998.0" textLength="5.6" lengthAdjust="spacingAndGlyphs">25-May</text><text x="538.1" y="998.0" textLength="5.6" lengthAdjust="spacingAndGlyphs">26-May</text><text x="546.4" y="998.0" textLength="5.6" lengthAdjust="spacingAndGlyphs">27-May</text><text x="554.6" y="998.0" textLength="5.6" lengthAdjust="spacingAndGlyphs">28-May</text><text x="562.8" y="998.0" textLength="5.6" lengthAdjust="spacingAndGlyphs">29-May</text></g>

<text x="572.2" y="810.9" font-size="6" fill="#2c50c6" font-weight="bold" textLength="96.0" lengthAdjust="spacingAndGlyphs">MARÍA EUGENIA CAMPOS GALVÁN</text>
<text x="572.2" y="819.0" font-size="6" fill="#2c50c6" font-weight="bold" textLength="29.0" lengthAdjust="spacingAndGlyphs">(PAN-PRD)</text>
<text x="572.2" y="843.1" font-size="6" fill="#b51f27" font-weight="bold" textLength="93.0" lengthAdjust="spacingAndGlyphs">JUAN CARLOS LOERA  DE LA ROSA</text>
<text x="572.2" y="850.6" font-size="6" fill="#b51f27" font-weight="bold" textLength="37.4" lengthAdjust="spacingAndGlyphs">(MORENA-PT)</text>
<text x="572.2" y="952.8" font-size="6" fill="#f4b27c" font-weight="bold" textLength="83.3" lengthAdjust="spacingAndGlyphs">JORGE ALFREDO LOZOYA (MC)</text>
<text x="572.2" y="959.4" font-size="6" fill="#111" font-weight="bold" textLength="43.6" lengthAdjust="spacingAndGlyphs">AÚN NO DECIDE</text>
<text x="572.2" y="978.3" font-size="5.6" fill="#e02a2a" font-weight="bold" textLength="78.6" lengthAdjust="spacingAndGlyphs">GRACIELA ORTÍZ GONZÁLEZ  (PRI)</text>
<text x="571.2" y="984.3" font-size="5.6" fill="#5b48c8" font-weight="bold" textLength="91.4" lengthAdjust="spacingAndGlyphs">LUIS CARLOS ARRIETA LAVENANT (PES)</text>
<text x="571.2" y="988.0" font-size="5.6" fill="#ee8ff0" font-weight="bold" textLength="85.6" lengthAdjust="spacingAndGlyphs">ALEJANDRO DÍAZ VILLALOBOS (FPM)</text>
<text x="572.2" y="997.4" font-size="5.6" fill="#9a9a9a" textLength="12.7" lengthAdjust="spacingAndGlyphs">OTRO</text>

</svg>
</body></html>
